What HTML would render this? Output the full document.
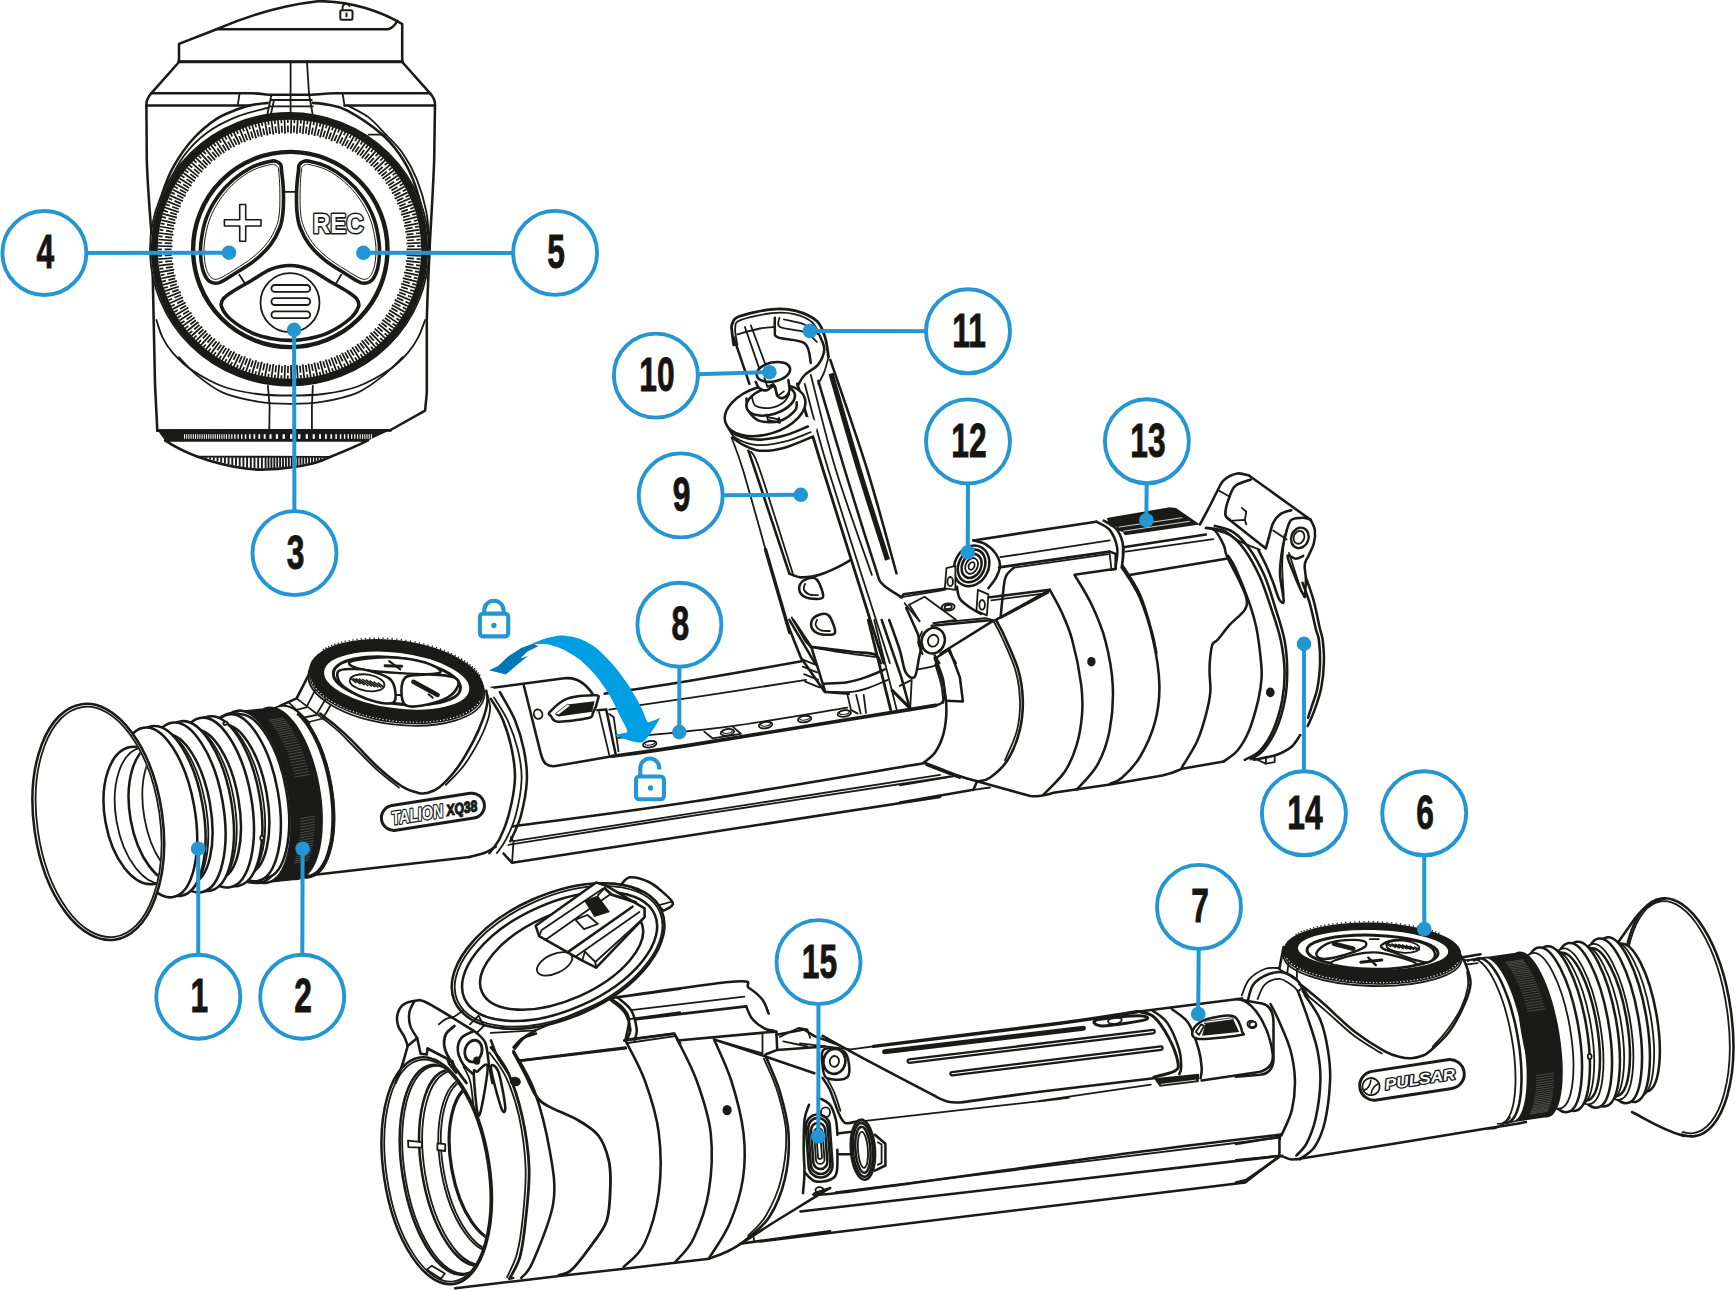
<!DOCTYPE html>
<html><head><meta charset="utf-8"><title>Talion XQ38 components</title>
<style>
html,body{margin:0;padding:0;background:#fff;}
svg{display:block}
.k{fill:none;stroke:#1a1a18;stroke-width:2.55;stroke-linecap:round;stroke-linejoin:round}
.k1{fill:none;stroke:#1a1a18;stroke-width:1.8;stroke-linecap:round;stroke-linejoin:round}
.k3{fill:none;stroke:#1a1a18;stroke-width:3.6;stroke-linecap:round;stroke-linejoin:round}
.w{fill:#fff;stroke:#1a1a18;stroke-width:2.55;stroke-linecap:round;stroke-linejoin:round}
.w1{fill:#fff;stroke:#1a1a18;stroke-width:1.8;stroke-linecap:round;stroke-linejoin:round}
.w3{fill:#fff;stroke:#1a1a18;stroke-width:3;stroke-linecap:round;stroke-linejoin:round}
.b{fill:#1a1a18;stroke:none}
</style></head><body>
<svg width="1736" height="1290" viewBox="0 0 1736 1290">
<rect width="1736" height="1290" fill="#fff"/>
<g id="topview">
<path class="w" d="M179,62 L179,43.9 L216.6,29.2 C245,17 283,5 318.5,1.2 C352,1 382,12 402.2,24 L402.2,62 Z" />
<path class="k" d="M216.6,29.2 L387.8,29.2 C393,28.5 395.5,24 397.5,20.8" />
<path class="k3" d="M179,62 L402.2,62" />
<rect x="340.3" y="10.2" width="12.2" height="9.6" rx="1.5" fill="#fff" stroke="#1a1a18" stroke-width="2"/>
<path class="k" d="M342.6,10 L342.6,7.2 C342.6,3.6 348.6,3.2 349.4,6" style='stroke-width:1.8'/>
<rect x="345.5" y="12.6" width="2" height="4.6" fill="#1a1a18"/>
<path class="w" d="M179,62 L151.2,93.3 C148,97 146.4,100 146.4,104 L146.8,160 C147.5,185 150,215 152,240 C153,270 153.5,300 155,384 L157.3,430.6 L390.6,430 L425.1,410.7 L426.8,393 L426.8,321 C427.5,290 429,265 430,240 C431.5,215 433,190 434.2,160 L435,104 C435,100 433,96.5 430.1,93.3 L402.2,62 Z" />
<path class="k" d="M151.2,93.3 L252,93.3 C262,93.6 266,94.7 271.4,94.7 L311.8,94.7 C318,94.5 324,93.4 336,93.3 L430.1,93.3" />
<path class="k" d="M146.4,105.4 L250,105.4 M344.5,105.4 L435,105.4" />
<path class="k1" d="M239.6,93.3 L237.7,105.4 M342.6,93.3 L344.5,105.4" />
<path class="k1" d="M290.6,62 L290.6,113 M307,62 L309,94 L312.5,113.5 M271.4,94.7 L267.6,113.5 M274,100 L271,113.5" />
<path class="k1" d="M271,100 L311.8,100 M269.5,106.4 L312.8,106.4" />
<path class="k" d="M267.6,102.9 C265.2,103.2 258.1,103.7 253.1,104.8 C248.1,105.9 243.8,106.9 237.7,109.3 C231.6,111.7 224.0,114.0 216.6,118.9 C209.2,123.8 200.6,130.8 193.5,138.5 C186.4,146.2 179.3,156.4 174.2,165.4 C169.1,174.4 165.7,183.1 162.7,192.4 C159.7,201.7 157.6,211.9 156.0,221.2 C154.4,230.5 153.6,243.7 153.1,248.2" />
<path class="k1" d="M268.5,107.7 C263.4,109.2 247.9,112.2 237.7,116.4 C227.4,120.6 216.0,126.1 207.0,132.7 C198.0,139.3 190.3,147.1 183.9,155.8 C177.5,164.5 172.5,174.8 168.5,184.7 C164.5,194.6 161.9,204.9 159.8,215.5 C157.7,226.1 156.6,242.8 156.0,248.2" />
<path class="k" d="M312.8,102.9 C315.4,103.2 322.4,103.5 328.2,104.8 C334.0,106.1 338.8,105.9 347.4,110.6 C356.0,115.2 371.5,125.5 380.1,132.7 C388.8,139.9 393.9,146.2 399.3,153.9 C404.8,161.6 409.0,169.3 412.8,178.9 C416.6,188.5 420.0,200.1 422.4,211.6 C424.8,223.1 426.4,242.1 427.2,248.2" />
<path class="k1" d="M347.4,105.4 C350.9,107.4 362.2,112.5 368.6,117.4 C375.0,122.3 380.1,128.6 385.9,134.7 C391.7,140.8 398.1,146.5 403.2,153.9 C408.3,161.3 412.8,169.3 416.6,178.9 C420.5,188.5 424.1,200.1 426.3,211.6 C428.6,223.1 429.5,242.1 430.1,248.2" />
<path class="k1" d="M368.6,134.7 L385.9,134.7" />
<path class="k1" d="M156.4,320.0 C157.4,322.9 159.8,331.8 162.5,337.3 C165.2,342.8 167.9,347.3 172.8,352.8 C177.7,358.3 183.5,364.5 191.8,370.1 C200.2,375.7 212.0,382.5 222.9,386.5 C233.8,390.5 246.3,392.5 257.5,394.0 C268.7,395.5 279.4,395.5 290.3,395.5 C301.2,395.5 312.0,395.5 323.2,394.0 C334.4,392.5 346.8,390.5 357.7,386.5 C368.6,382.5 380.4,375.7 388.8,370.1 C397.2,364.5 402.9,358.3 407.8,352.8 C412.7,347.3 415.3,342.8 418.2,337.3 C421.1,331.8 424.0,322.9 425.1,320.0" />
<path class="k1" d="M178.9,357.2 C181.9,360.2 189.7,369.4 197.0,375.3 C204.3,381.2 212.8,388.2 222.9,392.6 C233.0,397.0 246.3,399.7 257.5,401.6 C268.7,403.5 279.4,403.8 290.3,403.8 C301.2,403.8 312.0,403.5 323.2,401.6 C334.4,399.7 347.6,397.0 357.7,392.6 C367.8,388.2 376.1,381.2 383.6,375.3 C391.1,369.4 399.5,360.2 402.7,357.2" />
<path class="k1" d="M267.9,386.0 L269.6,406.4 L269.3,430.6" />
<path class="k1" d="M312.8,386.0 L311.9,406.4 L311.9,430.6" />
<path class="w" d="M165,440.4 C175,447 185,452 197,456.5 C212,462 228,466 243.7,468.3 C252,469.5 258,469.8 265,469.6 C275,469.3 283,468.5 290,467.5 C298,466.5 305,465.2 312.8,463.4 C320,461.5 325,459.5 330,457 C340,453 355,447 368,440.4 Z" />
<path d="M206.4,457.2 L206.4,458.4 M210.1,457.2 L210.1,459.4 M213.8,457.2 L213.8,460.4 M217.5,457.2 L217.5,461.5 M221.2,457.2 L221.2,462.5 M224.9,457.2 L224.9,463.3 M228.6,457.2 L228.6,464.1 M232.3,457.2 L232.3,465.0 M236.0,457.2 L236.0,465.8 M239.7,457.2 L239.7,466.6 M243.4,457.2 L243.4,467.4 M247.1,457.2 L247.1,467.7 M250.8,457.2 L250.8,467.9 M254.5,457.2 L254.5,468.2 M258.2,457.2 L258.2,468.4 M261.9,457.2 L261.9,468.6 M265.6,457.2 L265.6,468.7 M268.5,457.2 L268.5,468.5 M271.4,457.2 L271.4,468.3 M274.3,457.2 L274.3,468.0 M277.2,457.2 L277.2,467.8 M280.1,457.2 L280.1,467.5 M283.0,457.2 L283.0,467.3 M285.9,457.2 L285.9,467.0 M288.8,457.2 L288.8,466.8 M291.7,457.2 L291.7,466.4 M294.6,457.2 L294.6,465.9 M297.5,457.2 L297.5,465.4 M300.4,457.2 L300.4,464.8 M303.3,457.2 L303.3,464.3 M306.2,457.2 L306.2,463.8 M309.1,457.2 L309.1,463.3 M312.0,457.2 L312.0,462.7 M314.9,457.2 L314.9,461.8 M317.8,457.2 L317.8,460.7 M320.7,457.2 L320.7,459.7 M323.6,457.2 L323.6,458.6" stroke="#1a1a18" stroke-width="1.9" fill="none" stroke-linecap="butt"/>
<path class="k1" d="M197,456.6 L330,456.9" />
<path class="b" d="M157.3,430 L390.6,430 L368,440.6 L165,440.6 Z" />
<path class="k" d="M157.3,430.5 L390.6,430.5" />
<rect x="184.0" y="434.2" width="1.0" height="4.6" fill="#fff"/><rect x="186.2" y="434.2" width="1.0" height="4.6" fill="#fff"/><rect x="188.4" y="434.2" width="1.0" height="4.6" fill="#fff"/><rect x="190.6" y="434.2" width="1.0" height="4.6" fill="#fff"/><rect x="192.8" y="434.2" width="1.0" height="4.6" fill="#fff"/><rect x="195.0" y="434.2" width="1.0" height="4.6" fill="#fff"/><rect x="197.2" y="434.2" width="1.0" height="4.6" fill="#fff"/><rect x="199.4" y="434.2" width="1.0" height="4.6" fill="#fff"/><rect x="201.6" y="434.2" width="1.0" height="4.6" fill="#fff"/><rect x="203.8" y="434.2" width="1.0" height="4.6" fill="#fff"/><rect x="206.0" y="434.2" width="1.0" height="4.6" fill="#fff"/><rect x="208.2" y="434.2" width="1.0" height="4.6" fill="#fff"/><rect x="210.4" y="434.2" width="1.0" height="4.6" fill="#fff"/><rect x="212.6" y="434.2" width="1.0" height="4.6" fill="#fff"/><rect x="214.8" y="434.2" width="1.0" height="4.6" fill="#fff"/><rect x="217.0" y="434.2" width="1.0" height="4.6" fill="#fff"/><rect x="219.2" y="434.2" width="1.0" height="4.6" fill="#fff"/><rect x="221.4" y="434.2" width="1.0" height="4.6" fill="#fff"/><rect x="223.6" y="434.2" width="1.0" height="4.6" fill="#fff"/><rect x="225.9" y="434.2" width="1.1" height="4.6" fill="#fff"/><rect x="228.5" y="434.2" width="1.1" height="4.6" fill="#fff"/><rect x="231.2" y="434.2" width="1.2" height="4.6" fill="#fff"/><rect x="234.2" y="434.2" width="1.3" height="4.6" fill="#fff"/><rect x="237.5" y="434.2" width="1.3" height="4.6" fill="#fff"/><rect x="241.0" y="434.2" width="1.4" height="4.6" fill="#fff"/><rect x="244.8" y="434.2" width="1.5" height="4.6" fill="#fff"/><rect x="249.0" y="434.2" width="1.6" height="4.6" fill="#fff"/><rect x="253.5" y="434.2" width="1.7" height="4.6" fill="#fff"/><rect x="258.4" y="434.2" width="1.8" height="4.6" fill="#fff"/><rect x="263.7" y="434.2" width="1.9" height="4.6" fill="#fff"/><rect x="269.5" y="434.2" width="2.0" height="4.6" fill="#fff"/><rect x="275.8" y="434.2" width="2.2" height="4.6" fill="#fff"/><rect x="282.6" y="434.2" width="2.3" height="4.6" fill="#fff"/><rect x="290.0" y="434.2" width="2.5" height="4.6" fill="#fff"/><rect x="298.0" y="434.2" width="2.4" height="4.6" fill="#fff"/><rect x="305.7" y="434.2" width="2.2" height="4.6" fill="#fff"/><rect x="312.7" y="434.2" width="2.1" height="4.6" fill="#fff"/><rect x="319.1" y="434.2" width="1.9" height="4.6" fill="#fff"/><rect x="325.0" y="434.2" width="1.8" height="4.6" fill="#fff"/><rect x="330.4" y="434.2" width="1.7" height="4.6" fill="#fff"/><rect x="335.3" y="434.2" width="1.6" height="4.6" fill="#fff"/><rect x="339.8" y="434.2" width="1.5" height="4.6" fill="#fff"/><rect x="343.9" y="434.2" width="1.4" height="4.6" fill="#fff"/><rect x="347.6" y="434.2" width="1.3" height="4.6" fill="#fff"/><rect x="351.1" y="434.2" width="1.2" height="4.6" fill="#fff"/><rect x="354.2" y="434.2" width="1.2" height="4.6" fill="#fff"/><rect x="357.1" y="434.2" width="1.1" height="4.6" fill="#fff"/><rect x="359.7" y="434.2" width="1.0" height="4.6" fill="#fff"/><rect x="362.1" y="434.2" width="1.0" height="4.6" fill="#fff"/><rect x="364.3" y="434.2" width="1.0" height="4.6" fill="#fff"/><rect x="366.5" y="434.2" width="1.0" height="4.6" fill="#fff"/><rect x="368.7" y="434.2" width="1.0" height="4.6" fill="#fff"/><rect x="370.9" y="434.2" width="1.0" height="4.6" fill="#fff"/>
<ellipse class="w1" cx="289.5" cy="249.3" rx="139.5" ry="136.3" />
<ellipse class="k" cx="289.5" cy="249.3" rx="135.2" ry="133.0" style="stroke-width:7"/>
<path d="M406.5,249.3 L421.0,249.3 M407.5,252.2 L414.5,252.4 M417.0,252.5 L421.0,252.6 M406.4,255.1 L420.8,255.8 M407.2,258.1 L414.1,258.6 M416.6,258.8 L420.6,259.1 M405.9,260.9 L420.3,262.4 M406.6,263.9 L413.5,264.8 M416.0,265.1 L420.0,265.6 M405.2,266.7 L419.5,268.9 M405.7,269.7 L412.6,271.0 M415.0,271.4 L419.0,272.1 M404.1,272.4 L418.4,275.3 M404.5,275.5 L411.3,277.1 M413.8,277.6 L417.7,278.5 M402.8,278.1 L416.9,281.7 M403.0,281.2 L409.8,283.1 M412.2,283.8 L416.0,284.8 M401.2,283.7 L415.1,288.0 M401.3,286.8 L407.9,289.0 M410.3,289.8 L414.0,291.1 M399.3,289.2 L412.9,294.2 M399.2,292.3 L405.7,294.9 M408.0,295.8 L411.8,297.2 M397.2,294.6 L410.5,300.3 M396.9,297.7 L403.3,300.6 M405.5,301.6 L409.2,303.2 M394.7,299.9 L407.8,306.2 M394.3,303.0 L400.5,306.2 M402.7,307.3 L406.3,309.1 M392.0,305.1 L404.7,312.0 M391.4,308.1 L397.5,311.6 M399.7,312.9 L403.1,314.9 M389.1,310.1 L401.4,317.7 M388.3,313.1 L394.2,316.9 M396.3,318.3 L399.6,320.4 M385.9,315.0 L397.8,323.1 M385.0,318.0 L390.6,322.0 M392.6,323.5 L395.9,325.8 M382.4,319.7 L393.9,328.4 M381.4,322.6 L386.8,327.0 M388.8,328.5 L391.9,331.0 M378.7,324.2 L389.8,333.5 M377.5,327.1 L382.7,331.7 M384.6,333.4 L387.6,336.0 M374.8,328.6 L385.4,338.4 M373.5,331.4 L378.4,336.3 M380.2,338.0 L383.1,340.8 M370.7,332.7 L380.7,343.1 M369.2,335.5 L373.9,340.6 M375.6,342.4 L378.3,345.3 M366.3,336.7 L375.8,347.5 M364.7,339.3 L369.2,344.7 M370.8,346.6 L373.3,349.6 M361.8,340.4 L370.7,351.7 M360.1,342.9 L364.2,348.5 M365.7,350.5 L368.1,353.7 M357.1,343.9 L365.5,355.6 M355.2,346.3 L359.1,352.1 M360.5,354.1 L362.7,357.4 M352.2,347.1 L360.0,359.2 M350.2,349.5 L353.8,355.4 M355.1,357.5 L357.1,360.9 M347.1,350.1 L354.3,362.6 M345.0,352.4 L348.3,358.5 M349.5,360.7 L351.4,364.2 M342.0,352.8 L348.5,365.7 M339.7,355.0 L342.7,361.3 M343.8,363.5 L345.5,367.1 M336.6,355.3 L342.5,368.5 M334.3,357.4 L337.0,363.8 M337.9,366.1 L339.4,369.7 M331.2,357.5 L336.4,370.9 M328.8,359.5 L331.1,366.0 M331.9,368.3 L333.3,372.1 M325.7,359.5 L330.1,373.1 M323.1,361.3 L325.1,367.9 M325.8,370.3 L327.0,374.1 M320.0,361.1 L323.8,375.0 M317.4,362.8 L319.1,369.5 M319.7,371.9 L320.6,375.8 M314.3,362.5 L317.4,376.5 M311.6,364.1 L312.9,370.9 M313.4,373.3 L314.1,377.2 M308.5,363.6 L310.9,377.8 M305.8,365.0 L306.7,371.9 M307.1,374.3 L307.6,378.2 M302.7,364.4 L304.3,378.7 M299.9,365.7 L300.5,372.6 M300.7,375.0 L301.1,379.0 M296.8,364.9 L297.8,379.2 M293.9,366.0 L294.2,373.0 M294.3,375.4 L294.5,379.4 M291.0,365.1 L291.2,379.5 M288.0,366.1 L287.9,373.0 M287.9,375.5 L287.8,379.5 M285.1,365.0 L284.5,379.4 M282.1,365.9 L281.7,372.8 M281.5,375.3 L281.2,379.2 M279.2,364.7 L277.9,379.0 M276.2,365.4 L275.4,372.3 M275.1,374.7 L274.7,378.7 M273.4,364.0 L271.4,378.2 M270.3,364.6 L269.2,371.4 M268.8,373.8 L268.1,377.8 M267.6,363.1 L264.9,377.2 M264.5,363.5 L263.0,370.2 M262.5,372.7 L261.6,376.5 M261.8,361.8 L258.4,375.8 M258.7,362.1 L256.9,368.8 M256.2,371.2 L255.2,375.0 M256.2,360.3 L252.0,374.1 M253.0,360.4 L250.9,367.0 M250.1,369.3 L248.9,373.1 M250.6,358.5 L245.7,372.1 M247.4,358.4 L244.9,364.9 M244.1,367.2 L242.6,370.9 M245.1,356.5 L239.6,369.7 M242.0,356.2 L239.1,362.6 M238.1,364.8 L236.5,368.5 M239.7,354.1 L233.5,367.1 M236.6,353.7 L233.5,359.9 M232.3,362.1 L230.5,365.7 M234.4,351.5 L227.6,364.2 M231.4,351.0 L227.9,357.0 M226.7,359.1 L224.7,362.6 M229.3,348.6 L221.9,360.9 M226.3,347.9 L222.5,353.8 M221.2,355.9 L219.0,359.2 M224.3,345.5 L216.3,357.4 M221.3,344.7 L217.3,350.3 M215.9,352.3 L213.5,355.6 M219.5,342.1 L210.9,353.7 M216.6,341.2 L212.3,346.6 M210.7,348.5 L208.3,351.7 M214.9,338.5 L205.7,349.6 M212.0,337.4 L207.4,342.6 M205.8,344.5 L203.2,347.5 M210.5,334.7 L200.7,345.3 M207.6,333.4 L202.8,338.4 M201.1,340.2 L198.3,343.1 M206.3,330.7 L195.9,340.8 M203.5,329.3 L198.4,334.0 M196.6,335.7 L193.6,338.4 M202.2,326.4 L191.4,336.0 M199.5,324.9 L194.2,329.4 M192.3,331.0 L189.2,333.5 M198.4,322.0 L187.1,331.0 M195.8,320.3 L190.3,324.5 M188.3,326.0 L185.1,328.4 M194.8,317.4 L183.1,325.8 M192.3,315.6 L186.6,319.5 M184.5,320.9 L181.2,323.1 M191.5,312.6 L179.4,320.4 M189.1,310.7 L183.1,314.3 M181.0,315.6 L177.6,317.7 M188.4,307.6 L175.9,314.9 M186.1,305.6 L180.0,308.9 M177.8,310.1 L174.3,312.0 M185.6,302.5 L172.7,309.1 M183.4,300.4 L177.1,303.4 M174.8,304.5 L171.2,306.2 M183.0,297.3 L169.8,303.2 M180.9,295.0 L174.5,297.7 M172.2,298.7 L168.5,300.3 M180.7,291.9 L167.2,297.2 M178.7,289.6 L172.2,291.9 M169.8,292.8 L166.1,294.2 M178.7,286.5 L165.0,291.1 M176.8,284.0 L170.1,286.1 M167.8,286.8 L163.9,288.0 M176.9,280.9 L163.0,284.8 M175.2,278.4 L168.4,280.1 M166.0,280.7 L162.1,281.7 M175.5,275.3 L161.3,278.5 M173.9,272.6 L167.0,274.0 M164.6,274.5 L160.6,275.3 M174.3,269.6 L160.0,272.1 M172.8,266.8 L165.9,267.9 M163.4,268.3 L159.5,268.9 M173.4,263.8 L159.0,265.6 M172.1,261.0 L165.1,261.7 M162.6,262.0 L158.7,262.4 M172.8,258.0 L158.4,259.1 M171.6,255.2 L164.7,255.5 M162.2,255.6 L158.2,255.8 M172.5,252.2 L158.0,252.6 M171.5,249.3 L164.5,249.3 M162.0,249.3 L158.0,249.3 M172.5,246.4 L158.0,246.0 M171.6,243.4 L164.7,243.1 M162.2,243.0 L158.2,242.8 M172.8,240.6 L158.4,239.5 M172.1,237.6 L165.1,236.9 M162.6,236.6 L158.7,236.2 M173.4,234.8 L159.0,233.0 M172.8,231.8 L165.9,230.7 M163.4,230.3 L159.5,229.7 M174.3,229.0 L160.0,226.5 M173.9,226.0 L167.0,224.6 M164.6,224.1 L160.6,223.3 M175.5,223.3 L161.3,220.1 M175.2,220.2 L168.4,218.5 M166.0,217.9 L162.1,216.9 M176.9,217.7 L163.0,213.8 M176.8,214.6 L170.1,212.5 M167.8,211.8 L163.9,210.6 M178.7,212.1 L165.0,207.5 M178.7,209.0 L172.2,206.7 M169.8,205.8 L166.1,204.4 M180.7,206.7 L167.2,201.4 M180.9,203.6 L174.5,200.9 M172.2,199.9 L168.5,198.3 M183.0,201.3 L169.8,195.4 M183.4,198.2 L177.1,195.2 M174.8,194.1 L171.2,192.4 M185.6,196.1 L172.7,189.5 M186.1,193.0 L180.0,189.7 M177.8,188.5 L174.3,186.6 M188.4,191.0 L175.9,183.7 M189.1,187.9 L183.1,184.3 M181.0,183.0 L177.6,180.9 M191.5,186.0 L179.4,178.2 M192.3,183.0 L186.6,179.1 M184.5,177.7 L181.2,175.5 M194.8,181.2 L183.1,172.8 M195.8,178.3 L190.3,174.1 M188.3,172.6 L185.1,170.2 M198.4,176.6 L187.1,167.6 M199.5,173.7 L194.2,169.2 M192.3,167.6 L189.2,165.1 M202.2,172.2 L191.4,162.6 M203.5,169.3 L198.4,164.6 M196.6,162.9 L193.6,160.2 M206.3,167.9 L195.9,157.8 M207.6,165.2 L202.8,160.2 M201.1,158.4 L198.3,155.5 M210.5,163.9 L200.7,153.3 M212.0,161.2 L207.4,156.0 M205.8,154.1 L203.2,151.1 M214.9,160.1 L205.7,149.0 M216.6,157.4 L212.3,152.0 M210.7,150.1 L208.3,146.9 M219.5,156.5 L210.9,144.9 M221.3,153.9 L217.3,148.3 M215.9,146.3 L213.5,143.0 M224.3,153.1 L216.3,141.2 M226.3,150.7 L222.5,144.8 M221.2,142.7 L219.0,139.4 M229.3,150.0 L221.9,137.7 M231.4,147.6 L227.9,141.6 M226.7,139.5 L224.7,136.0 M234.4,147.1 L227.6,134.4 M236.6,144.9 L233.5,138.7 M232.3,136.5 L230.5,132.9 M239.7,144.5 L233.5,131.5 M242.0,142.4 L239.1,136.0 M238.1,133.8 L236.5,130.1 M245.1,142.1 L239.6,128.9 M247.4,140.2 L244.9,133.7 M244.1,131.4 L242.6,127.7 M250.6,140.1 L245.7,126.5 M253.0,138.2 L250.9,131.6 M250.1,129.3 L248.9,125.5 M256.2,138.3 L252.0,124.5 M258.7,136.5 L256.9,129.8 M256.2,127.4 L255.2,123.6 M261.8,136.8 L258.4,122.8 M264.5,135.1 L263.0,128.4 M262.5,125.9 L261.6,122.1 M267.6,135.5 L264.9,121.4 M270.3,134.0 L269.2,127.2 M268.8,124.8 L268.1,120.8 M273.4,134.6 L271.4,120.4 M276.2,133.2 L275.4,126.3 M275.1,123.9 L274.7,119.9 M279.2,133.9 L277.9,119.6 M282.1,132.7 L281.7,125.8 M281.5,123.3 L281.2,119.4 M285.1,133.6 L284.5,119.2 M288.0,132.5 L287.9,125.6 M287.9,123.1 L287.8,119.1 M291.0,133.5 L291.2,119.1 M293.9,132.6 L294.2,125.6 M294.3,123.2 L294.5,119.2 M296.8,133.7 L297.8,119.4 M299.9,132.9 L300.5,126.0 M300.7,123.6 L301.1,119.6 M302.7,134.2 L304.3,119.9 M305.8,133.6 L306.7,126.7 M307.1,124.3 L307.6,120.4 M308.5,135.0 L310.9,120.8 M311.6,134.5 L312.9,127.7 M313.4,125.3 L314.1,121.4 M314.3,136.1 L317.4,122.1 M317.4,135.8 L319.1,129.1 M319.7,126.7 L320.6,122.8 M320.0,137.5 L323.8,123.6 M323.1,137.3 L325.1,130.7 M325.8,128.3 L327.0,124.5 M325.7,139.1 L330.1,125.5 M328.8,139.1 L331.1,132.6 M331.9,130.3 L333.3,126.5 M331.2,141.1 L336.4,127.7 M334.3,141.2 L337.0,134.8 M337.9,132.5 L339.4,128.9 M336.6,143.3 L342.5,130.1 M339.7,143.6 L342.7,137.3 M343.8,135.1 L345.5,131.5 M342.0,145.8 L348.5,132.9 M345.0,146.2 L348.3,140.1 M349.5,137.9 L351.4,134.4 M347.1,148.5 L354.3,136.0 M350.2,149.1 L353.8,143.2 M355.1,141.1 L357.1,137.7 M352.2,151.5 L360.0,139.4 M355.2,152.3 L359.1,146.5 M360.5,144.5 L362.7,141.2 M357.1,154.7 L365.5,143.0 M360.1,155.7 L364.2,150.1 M365.7,148.1 L368.1,144.9 M361.8,158.2 L370.7,146.9 M364.7,159.3 L369.2,153.9 M370.8,152.0 L373.3,149.0 M366.3,161.9 L375.8,151.1 M369.2,163.1 L373.9,158.0 M375.6,156.2 L378.3,153.3 M370.7,165.9 L380.7,155.5 M373.5,167.2 L378.4,162.3 M380.2,160.6 L383.1,157.8 M374.8,170.0 L385.4,160.2 M377.5,171.5 L382.7,166.9 M384.6,165.2 L387.6,162.6 M378.7,174.4 L389.8,165.1 M381.4,176.0 L386.8,171.6 M388.8,170.1 L391.9,167.6 M382.4,178.9 L393.9,170.2 M385.0,180.6 L390.6,176.6 M392.6,175.1 L395.9,172.8 M385.9,183.6 L397.8,175.5 M388.3,185.5 L394.2,181.7 M396.3,180.3 L399.6,178.2 M389.1,188.5 L401.4,180.9 M391.4,190.5 L397.5,187.0 M399.7,185.7 L403.1,183.7 M392.0,193.5 L404.7,186.6 M394.3,195.6 L400.5,192.4 M402.7,191.3 L406.3,189.5 M394.7,198.7 L407.8,192.4 M396.9,200.9 L403.3,198.0 M405.5,197.0 L409.2,195.4 M397.2,204.0 L410.5,198.3 M399.2,206.3 L405.7,203.7 M408.0,202.8 L411.8,201.4 M399.3,209.4 L412.9,204.4 M401.3,211.8 L407.9,209.6 M410.3,208.8 L414.0,207.5 M401.2,214.9 L415.1,210.6 M403.0,217.4 L409.8,215.5 M412.2,214.8 L416.0,213.8 M402.8,220.5 L416.9,216.9 M404.5,223.1 L411.3,221.5 M413.8,221.0 L417.7,220.1 M404.1,226.2 L418.4,223.3 M405.7,228.9 L412.6,227.6 M415.0,227.2 L419.0,226.5 M405.2,231.9 L419.5,229.7 M406.6,234.7 L413.5,233.8 M416.0,233.5 L420.0,233.0 M405.9,237.7 L420.3,236.2 M407.2,240.5 L414.1,240.0 M416.6,239.8 L420.6,239.5 M406.4,243.5 L420.8,242.8 M407.5,246.4 L414.5,246.2 M417.0,246.1 L421.0,246.0" stroke="#1a1a18" stroke-width="1.75" fill="none"/>
<ellipse class="k" cx="290.3" cy="249.5" rx="97.2" ry="97.6" style="stroke-width:4.4"/>
<path class="k" d="M281.5,170.2 C281.1,166.2 281.5,166.1 280.7,164.7 C279.9,163.3 278.5,162.2 276.8,161.6 C275.1,161.0 274.7,160.3 270.6,161.2 C266.5,162.1 258.2,164.0 252.0,167.1 C245.8,170.2 239.1,174.6 233.4,179.5 C227.7,184.4 222.4,190.1 217.9,196.5 C213.4,202.9 209.1,210.4 206.3,218.2 C203.5,225.9 201.8,235.8 200.9,243.0 C200.1,250.2 200.6,256.4 201.2,261.6 C201.8,266.8 202.8,270.6 204.3,274.0 C205.8,277.4 207.7,280.4 210.2,281.8 C212.7,283.2 215.1,284.2 219.5,282.6 C223.9,281.1 230.6,276.2 236.5,272.5 C242.4,268.8 249.4,264.8 255.1,260.1 C260.8,255.5 266.5,250.0 270.6,244.6 C274.7,239.2 277.8,232.9 279.9,227.5 C282.0,222.1 282.4,218.4 283.0,212.0 C283.6,205.6 283.6,195.8 283.3,188.8 C283.1,181.8 281.9,174.2 281.5,170.2Z" style="stroke-width:3.6"/>
<path class="k" d="M298.5,170.2 C298.9,166.2 298.5,166.1 299.3,164.7 C300.1,163.3 301.5,162.2 303.2,161.6 C304.9,161.0 305.3,160.3 309.4,161.2 C313.5,162.1 321.8,164.0 328.0,167.1 C334.2,170.2 340.9,174.6 346.6,179.5 C352.3,184.4 357.6,190.1 362.1,196.5 C366.6,202.9 370.9,210.4 373.7,218.2 C376.5,225.9 378.2,235.8 379.1,243.0 C380.0,250.2 379.4,256.4 378.8,261.6 C378.2,266.8 377.2,270.6 375.7,274.0 C374.2,277.4 372.3,280.4 369.8,281.8 C367.3,283.2 364.9,284.2 360.5,282.6 C356.1,281.1 349.4,276.2 343.5,272.5 C337.6,268.8 330.6,264.8 324.9,260.1 C319.2,255.5 313.5,250.0 309.4,244.6 C305.3,239.2 302.2,232.9 300.1,227.5 C298.0,222.1 297.6,218.4 297.0,212.0 C296.4,205.6 296.4,195.8 296.7,188.8 C296.9,181.8 298.1,174.2 298.5,170.2Z" style="stroke-width:3.6"/>
<path class="k1" d="M278.7,170.9 C278.3,167.2 278.3,167.7 277.6,166.7 C276.9,165.7 275.8,165.0 274.5,164.7 C273.2,164.4 273.4,163.8 269.8,164.7 C266.2,165.6 258.5,167.3 252.8,170.2 C247.1,173.0 241.0,177.2 235.7,181.8 C230.4,186.5 225.3,191.9 221.0,198.1 C216.7,204.3 212.6,211.5 209.8,219.0 C207.0,226.5 205.2,236.0 204.4,243.0 C203.6,250.0 204.2,256.1 204.7,260.9 C205.2,265.7 206.2,268.9 207.4,271.7 C208.6,274.5 209.8,276.7 211.7,277.9 C213.6,279.1 214.8,280.1 218.7,278.7 C222.6,277.3 229.3,273.0 235.0,269.4 C240.7,265.8 247.4,261.8 252.8,257.3 C258.2,252.8 263.6,247.8 267.5,242.6 C271.4,237.4 274.4,231.6 276.4,226.4 C278.4,221.2 278.9,218.0 279.5,211.7 C280.1,205.4 279.9,195.6 279.8,188.8 C279.7,182.0 279.1,174.6 278.7,170.9Z" style="stroke-width:1"/>
<path class="k1" d="M301.3,170.9 C301.7,167.2 301.7,167.7 302.4,166.7 C303.1,165.7 304.2,165.0 305.5,164.7 C306.8,164.4 306.6,163.8 310.2,164.7 C313.8,165.6 321.5,167.3 327.2,170.2 C332.9,173.0 339.0,177.2 344.3,181.8 C349.6,186.5 354.7,191.9 359.0,198.1 C363.3,204.3 367.4,211.5 370.2,219.0 C373.0,226.5 374.8,236.0 375.6,243.0 C376.5,250.0 375.8,256.1 375.3,260.9 C374.8,265.7 373.8,268.9 372.6,271.7 C371.4,274.5 370.2,276.7 368.3,277.9 C366.4,279.1 365.2,280.1 361.3,278.7 C357.4,277.3 350.7,273.0 345.0,269.4 C339.3,265.8 332.6,261.8 327.2,257.3 C321.8,252.8 316.4,247.8 312.5,242.6 C308.6,237.4 305.6,231.6 303.6,226.4 C301.6,221.2 301.1,218.0 300.5,211.7 C299.9,205.4 300.1,195.6 300.2,188.8 C300.3,182.0 300.9,174.6 301.3,170.9Z" style="stroke-width:1"/>
<path class="k" d="M290.0,265.5 C283.5,265.5 276.9,266.9 270.6,269.4 C264.3,271.8 258.4,276.4 252.0,280.2 C245.6,283.9 236.7,288.8 231.9,291.9 C227.1,295.0 225.0,296.4 223.3,298.8 C221.6,301.2 220.3,303.2 221.5,306.6 C222.7,310.0 225.2,314.6 230.3,319.0 C235.4,323.4 245.3,329.7 252.0,332.9 C258.7,336.1 264.3,337.1 270.6,338.4 C276.9,339.6 283.5,340.4 290.0,340.4 C296.5,340.4 303.1,339.6 309.4,338.4 C315.7,337.1 321.3,336.1 328.0,332.9 C334.7,329.7 344.6,323.4 349.7,319.0 C354.8,314.6 357.3,310.0 358.5,306.6 C359.7,303.2 358.4,301.2 356.7,298.8 C355.0,296.4 352.9,295.0 348.1,291.9 C343.3,288.8 334.4,283.9 328.0,280.2 C321.6,276.4 315.7,271.8 309.4,269.4 C303.1,266.9 296.5,265.5 290.0,265.5Z" style="stroke-width:3.6"/>
<path class="k1" d="M284.9,191.9 L295.4,191.9" />
<path class="k1" d="M239.3,274.8 L244.3,282.6" />
<path class="k1" d="M341.2,274.8 L336.5,282.6" />
<ellipse class="k1" cx="290" cy="302.7" rx="29.5" ry="29.5" />
<rect class="w1" x="271.4" y="285.0" width="38.8" height="6.8" rx="3.4"/>
<rect class="w1" x="271.4" y="298.20000000000005" width="38.8" height="6.8" rx="3.4"/>
<rect class="w1" x="271.4" y="311.40000000000003" width="38.8" height="6.8" rx="3.4"/>
<path class="w1" d="M239.7,204.5 h6 a0,0 0 0 1 0,0 v15.3 h15.3 v6.2 h-15.3 v15.3 h-6 v-15.3 h-15.3 v-6.2 h15.3 Z" style="stroke-linejoin:round;stroke-width:1.6" transform="translate(0,0)"/>
<text transform="translate(338.2,233) scale(0.86,1)" text-anchor="middle" font-family="Liberation Sans, sans-serif" font-weight="bold" font-size="28" fill="#fff" stroke="#1a1a18" stroke-width="3.2" paint-order="stroke" stroke-linejoin="round">REC</text>

</g>
<g id="scope2">
<ellipse class="w" cx="558.1" cy="956" rx="113" ry="62" transform="rotate(-23.8 558.1 956)" />
<ellipse class="k1" cx="558.6" cy="956.3" rx="110.5" ry="59.5" transform="rotate(-23.8 558.6 956.3)" />
<ellipse class="k" cx="559.6" cy="956.5" rx="104" ry="53.5" transform="rotate(-23.8 559.6 956.5)" />
<ellipse class="k" cx="561.6" cy="957" rx="87" ry="43" transform="rotate(-23.8 561.6 957)" />
<ellipse class="k1" cx="554.6" cy="963.8" rx="19" ry="9.5" transform="rotate(-25 554.6 963.8)" />
<path class="k" d="M622.1,883.3 C623.5,882.3 626.1,877.4 630.7,877.3 C635.3,877.2 644.3,879.9 649.8,882.5 C655.3,885.1 659.8,889.6 663.6,892.9 C667.4,896.2 671.5,900.0 672.6,902.4 C673.8,904.8 672.0,905.6 670.5,907.0 C669.0,908.4 664.8,909.9 663.6,910.5" />
<path class="k1" d="M663.6,910.5 L658.4,905.3 L672.2,901.5" />
<path class="k1" d="M627.3,885.9 C628.7,886.5 633.6,888.2 635.9,889.4 C638.2,890.6 640.2,892.3 641.1,892.9" />
<path class="w" d="M535.6,925.7 L596.2,882.5 L606.5,885.9 L644.6,908.4 L644.6,917.1 L596.2,967.6 L582.3,960.6 L539.1,936.1Z" />
<path class="k1" d="M539.1,936.1 L541.7,930.0 L603.1,888.5" />
<path class="k1" d="M546.0,939.5 L610.0,894.6" />
<path class="k" d="M568.5,951.6 L632.5,906.7" />
<path class="k1" d="M575.4,956.8 L639.4,911.9" />
<path class="k1" d="M582.3,960.6 L584.9,951.6 L595.3,962.0 L596.2,967.6" />
<path class="k1" d="M595.3,962.0 L644.6,917.1" />
<path class="b" d="M584.0,900.6 L597.9,895.4 L610.0,911.9 L594.4,917.1Z" />
<path class="w1" d="M575.4,919.7 L587.5,915.0 L597.9,924.0 L584.0,929.2Z" />
<path class="k" d="M604.8,888.5 L611.7,894.6 L635.9,902.4" style="stroke-width:2.8"/>
<path class="k1" d="M597.9,895.4 L606.5,885.9" />
<path class="w1" d="M491.0,1040.4 C509.8,1008.3 496.2,1059.8 518.7,1061.1 C541.2,1062.4 608.0,1051.5 625.9,1048.2 C643.8,1044.9 617.8,1043.8 625.9,1041.3 C634.0,1038.8 659.7,1033.8 674.4,1033.5 C689.1,1033.2 698.8,1035.6 714.1,1039.5 C729.4,1043.4 753.6,1041.2 766.0,1056.8 C778.4,1072.4 784.5,1111.9 788.5,1132.9 C792.5,1153.9 793.5,1167.5 790.2,1182.9 C786.9,1198.3 776.7,1215.6 768.8,1225.5 C760.9,1235.4 752.8,1236.9 742.9,1242.4 C733.0,1247.9 739.5,1253.1 709.2,1258.7 C679.0,1264.3 603.7,1271.2 561.4,1276.1 C519.1,1281.0 481.1,1292.0 455.2,1288.3 C429.3,1284.6 399.9,1295.3 405.9,1254.0 C411.9,1212.7 472.2,1072.6 491.0,1040.4Z" style="stroke:none"/>
<path class="k" d="M766.0,1056.8 C768.3,1062.6 776.0,1078.7 779.8,1091.4 C783.5,1104.1 787.6,1118.3 788.5,1132.9 C789.4,1147.5 788.2,1164.8 784.9,1178.9 C781.6,1193.1 775.8,1207.2 768.8,1217.8 C761.8,1228.4 747.2,1238.3 742.9,1242.4" />
<path class="k1" d="M763.9,1058.6 C766.1,1064.1 773.7,1079.0 777.4,1091.4 C781.1,1103.8 785.5,1118.3 786.1,1132.9 C786.7,1147.5 784.5,1165.2 781.2,1178.9 C777.9,1192.6 771.7,1205.7 766.2,1215.2 C760.7,1224.7 751.1,1232.5 748.1,1235.9" />
<path class="k" d="M714.1,1039.5 C717.0,1046.4 726.5,1065.4 731.4,1081.0 C736.3,1096.6 741.6,1116.6 743.5,1132.9 C745.4,1149.2 745.2,1163.9 742.9,1178.9 C740.6,1193.9 735.5,1209.7 729.9,1222.9 C724.3,1236.1 712.7,1252.1 709.2,1257.9" />
<path class="k" d="M677.8,1040.4 C681.0,1047.2 691.3,1065.6 696.8,1081.0 C702.3,1096.4 708.7,1114.4 710.7,1132.9 C712.7,1151.4 711.6,1174.2 708.7,1191.8 C705.9,1209.4 699.1,1226.8 693.6,1238.5 C688.1,1250.2 678.5,1257.9 675.5,1261.8" />
<path class="k" d="M625.9,1041.3 C629.1,1047.9 639.5,1065.7 645.0,1081.0 C650.5,1096.3 656.5,1114.4 658.8,1132.9 C661.1,1151.4 661.3,1173.3 658.9,1191.8 C656.5,1210.3 650.3,1231.2 644.4,1243.7 C638.5,1256.2 627.1,1263.1 623.6,1267.0" />
<ellipse class="b" cx="727.1" cy="1110.1" rx="4.6" ry="5.2" />
<path class="k" d="M513.5,1052.5 C515.5,1056.2 521.9,1067.8 525.6,1075.0 C529.4,1082.2 532.2,1090.5 536.0,1095.7 C539.8,1100.9 541.2,1102.1 548.1,1106.1 C555.0,1110.1 569.1,1115.0 577.5,1119.9 C585.9,1124.8 593.1,1128.9 598.3,1135.5 C603.5,1142.1 606.6,1151.4 608.6,1159.7 C610.6,1168.0 610.7,1175.5 610.4,1185.6 C610.1,1195.7 609.9,1210.5 606.9,1220.2 C603.9,1229.9 598.4,1235.5 592.5,1243.7 C586.6,1251.9 577.4,1264.3 571.8,1269.6 C566.2,1274.9 561.0,1274.3 558.8,1275.3" style="stroke-width:2.8"/>
<path class="k" d="M491.0,1047.3 C493.9,1051.6 503.1,1061.7 508.3,1073.2 C513.5,1084.7 518.7,1100.7 522.2,1116.5 C525.7,1132.3 528.5,1151.0 529.1,1168.3 C529.7,1185.6 527.1,1205.5 525.6,1220.2 C524.1,1234.9 522.7,1246.8 520.0,1256.6 C517.3,1266.3 511.3,1275.0 509.6,1278.7" style="stroke-width:2.8"/>
<path class="k" d="M513.5,1050.8 C517.0,1057.4 528.2,1073.8 534.3,1090.5 C540.3,1107.2 546.6,1132.3 549.8,1151.0 C553.0,1169.7 556.1,1184.4 553.3,1202.9 C550.5,1221.4 538.2,1249.3 532.9,1261.8 C527.6,1274.3 523.2,1275.2 521.3,1277.9" />
<path class="k1" d="M489.3,1052.5 C492.0,1056.5 500.7,1066.0 505.7,1076.7 C510.7,1087.4 515.8,1101.2 519.1,1116.5 C522.4,1131.8 525.0,1151.0 525.6,1168.3 C526.2,1185.6 524.0,1205.9 522.5,1220.2 C521.0,1234.5 519.5,1244.5 516.9,1254.0 C514.3,1263.5 508.6,1273.5 507.0,1277.4" />
<ellipse class="b" cx="515.3" cy="1081.5" rx="5.6" ry="4.6" transform="rotate(10 515.3 1081.5)" />
<path class="k" d="M518.7,1061.1 L625.9,1048.2" />
<path class="k" d="M513.5,1047.3 C515.0,1045.8 518.5,1040.9 522.2,1038.6 C526.0,1036.3 533.7,1034.3 536.0,1033.5" />
<path class="k" d="M455.2,1288.3 C472.9,1286.2 530.7,1279.3 561.4,1275.8 C592.1,1272.2 614.6,1269.8 639.2,1267.0 C663.8,1264.2 697.5,1260.1 709.2,1258.7" />
<path class="k" d="M709.2,1258.7 C712.2,1257.5 721.7,1254.2 727.3,1251.5 C732.9,1248.8 736.0,1246.7 742.9,1242.4 C749.8,1238.1 760.2,1231.0 768.8,1225.5 C777.4,1220.0 784.5,1215.8 794.7,1209.5 C804.9,1203.2 824.1,1191.6 830.0,1188.0" />
<path class="k" d="M740.3,1243.7 L830.0,1231.2" />
<path class="k1" d="M753.3,1236.4 L754.5,1241.6" />
<ellipse class="b" cx="511.4" cy="1278.2" rx="3.2" ry="1.4" transform="rotate(-8 511.4 1278.2)" />
<ellipse class="w" cx="436.7" cy="1170.7" rx="53" ry="114.5" transform="rotate(-8.6 436.7 1170.7)" />
<ellipse class="k1" cx="437.3" cy="1170.7" rx="50.8" ry="112" transform="rotate(-8.6 437.3 1170.7)" />
<clipPath id="objclip"><ellipse cx="437.3" cy="1170.7" rx="50" ry="111.2" transform="rotate(-8.6 437.3 1170.7)"/></clipPath>
<g clip-path="url(#objclip)"><ellipse class="k" cx="447.7" cy="1169.7" rx="45.5" ry="106" transform="rotate(-9 447.7 1169.7)" /><ellipse class="k1" cx="449.7" cy="1169.7" rx="45" ry="105" transform="rotate(-9 449.7 1169.7)" /><ellipse class="k" cx="463.7" cy="1167.7" rx="42" ry="99" transform="rotate(-9.5 463.7 1167.7)" /><ellipse class="k1" cx="466.7" cy="1167.7" rx="42" ry="98" transform="rotate(-9.5 466.7 1167.7)" /><ellipse class="k1" cx="479.7" cy="1164.7" rx="39" ry="88" transform="rotate(-10 479.7 1164.7)" /><ellipse class="k1" cx="481.7" cy="1164.7" rx="38.5" ry="87" transform="rotate(-10 481.7 1164.7)" /><ellipse class="k" cx="487.2" cy="1162.7" rx="36" ry="79" transform="rotate(-10 487.2 1162.7)" style="stroke-width:3.2"/></g>
<path class="w1" d="M408.0,1140.7 L421.9,1142.1 L421.9,1147.6 L408.4,1147.2Z" />
<path class="w1" d="M437.4,1143.3 L445.2,1144.1 L445.2,1151.0 L437.4,1150.0Z" />
<path class="w1" d="M426.7,1269.6 L431.8,1265.7 L444.8,1273.5 L440.9,1278.7Z" />
<path class="w" d="M476.8,1032.9 C468.7,1028.0 438.8,1008.8 428.4,1003.5 C418.0,998.2 418.9,1000.6 414.6,1000.9 C410.3,1001.2 405.4,1002.8 402.5,1005.3 C399.6,1007.8 398.0,1012.1 397.3,1015.6 C396.6,1019.1 397.1,1022.5 398.2,1026.0 C399.3,1029.5 402.6,1033.1 404.2,1036.4 C405.8,1039.7 407.1,1044.3 407.7,1045.9" />
<path class="k" d="M414.6,1000.9 C413.7,1002.8 410.1,1008.0 409.4,1012.2 C408.7,1016.4 409.0,1021.7 410.3,1026.0 C411.6,1030.3 416.1,1036.1 417.2,1038.1" />
<path class="k" d="M407.7,1045.9 L417.2,1038.1 L420.6,1053.7 L426.7,1054.5 L427.6,1048.5" />
<path class="k1" d="M438.8,1024.3 C439.9,1023.4 443.1,1020.4 445.7,1019.1 C448.3,1017.8 451.5,1018.0 454.4,1016.5 C457.3,1015.0 461.6,1011.4 463.0,1010.4" />
<path class="k" d="M407.7,1045.9 C406.8,1048.9 404.5,1057.8 402.5,1064.0 C400.5,1070.2 396.8,1079.8 395.6,1082.9" />
<path class="k" d="M427.6,1048.5 L452.6,1061.5 L456.1,1072.7 L449.2,1064.0 L447.4,1058.9" />
<path class="k" d="M454.4,1026.0 C452.9,1027.4 447.3,1030.8 445.7,1034.6 C444.1,1038.3 443.6,1043.6 444.8,1048.5 C446.0,1053.4 449.0,1058.3 452.6,1064.0 C456.2,1069.7 464.2,1079.8 466.5,1082.9" style="stroke-width:2.8"/>
<path class="k" d="M473.4,1031.2 C471.4,1032.3 463.9,1034.9 461.3,1038.1 C458.7,1041.3 457.5,1045.9 457.8,1050.2 C458.1,1054.5 460.4,1060.0 463.0,1064.0 C465.6,1068.0 471.7,1072.7 473.4,1074.4" />
<ellipse class="w" cx="473.4" cy="1051.1" rx="8.5" ry="11" transform="rotate(15 473.4 1051.1)" style="stroke-width:2.8"/>
<ellipse class="b" cx="476.8" cy="1060.6" rx="3.6" ry="4.2" />
<path class="k" d="M476.8,1032.9 C478.2,1034.6 483.5,1038.1 485.5,1043.3 C487.5,1048.5 487.8,1057.4 488.9,1064.0 C490.0,1070.6 491.8,1079.8 492.4,1082.9" />
<path class="k" d="M473.8,1073.2 C473.8,1079.8 476.0,1105.2 477.2,1111.3 C478.4,1117.4 479.3,1117.3 481.0,1109.9 C482.7,1102.5 488.2,1073.1 487.6,1066.7 C487.0,1060.3 479.5,1070.4 477.2,1071.5 C474.9,1072.6 473.8,1066.6 473.8,1073.2Z" />
<path class="k" d="M491.0,1068.4 C491.5,1074.5 499.0,1101.9 501.4,1108.2 C503.8,1114.5 505.7,1112.5 505.2,1106.4 C504.7,1100.3 500.7,1077.8 498.3,1071.5 C495.9,1065.2 490.5,1062.3 491.0,1068.4Z" />
<path class="k1" d="M463.4,1066.3 C464.5,1068.9 468.6,1074.7 470.3,1081.9 C472.0,1089.1 473.2,1104.9 473.8,1109.5" />
<path class="k" d="M491.0,1040.4 C492.2,1043.3 495.1,1052.2 498.0,1057.7 C500.9,1063.2 506.6,1070.6 508.3,1073.2" />
<path class="k1" d="M469.9,1024.3 L478.6,1015.6 L483.8,1026.0 L476.8,1032.9" />
<path class="k1" d="M490.7,1032.9 L535.6,1030.3 L610.0,998.3" />
<path class="k" d="M514.9,1048.5 C516.3,1046.8 520.0,1041.1 523.5,1038.1 C527.0,1035.1 533.6,1031.6 535.6,1030.3" style="stroke-width:2.8"/>
<path class="k" d="M610.0,998.3 C621.7,996.7 679.0,989.0 680.2,988.8 C681.4,988.6 608.2,998.4 617.3,997.2 C626.4,996.0 713.0,983.2 734.9,981.6 C756.8,980.0 744.1,984.7 748.7,987.7 C753.3,990.7 759.2,995.5 762.5,999.8 C765.8,1004.1 767.6,1011.3 768.6,1013.6" />
<path class="k1" d="M631.1,1010.1 L744.4,996.7" />
<path class="k" d="M636.3,1019.1 L746.1,1006.3" style="stroke-width:2.8"/>
<path class="k" d="M746.1,1006.3 C747.1,1008.4 749.2,1015.1 752.2,1018.8 C755.2,1022.5 760.6,1026.3 764.3,1028.3 C768.0,1030.3 772.9,1030.5 774.6,1030.9" />
<path class="k" d="M610.4,999.8 C612.7,1001.8 620.9,1007.0 624.2,1011.9 C627.5,1016.8 630.0,1024.3 630.3,1029.2 C630.6,1034.1 626.6,1039.3 625.9,1041.3" />
<path class="k" d="M617.3,997.2 C619.6,999.4 627.9,1004.8 631.1,1010.1 C634.3,1015.4 636.1,1024.2 636.7,1029.2 C637.3,1034.2 635.0,1038.1 634.6,1039.9" />
<path class="k" d="M610.0,998.3 C612.0,999.8 618.9,1003.5 622.1,1007.0 C625.3,1010.5 628.4,1013.6 629.0,1019.1 C629.6,1024.6 626.1,1036.3 625.5,1039.8" />
<path class="k1" d="M629.0,1019.1 L680.2,1012.2" />
<path class="k" d="M625.5,1039.8 L674.0,1033.8 L680.2,1043.3" />
<path class="k" d="M520.1,1060.6 L625.5,1047.6" />
<path class="k" d="M624.2,1040.6 L674.4,1033.5 L677.8,1040.4 L764.3,1032.6 L776.4,1031.8" />
<path class="k1" d="M627.7,1043.0 L673.5,1036.4" />
<path class="k" d="M714.1,1039.5 L764.3,1056.1 L766.0,1054.2 L777.2,1049.9 L776.4,1031.8" />
<path class="k1" d="M721.0,1041.3 L762.5,1053.4 L762.5,1033.0" />
<path class="k" d="M766.0,1056.8 L814.4,1073.3" />
<path class="k" d="M777.2,1049.9 L824.8,1046.5" />
<path class="k" d="M776.4,1034.7 L804.0,1029.5 L814.4,1036.1 L900.2,1067.2" />
<path class="k1" d="M779.8,1036.9 L798.9,1027.8 L807.5,1029.5 L810.1,1037.8" />
<path class="k1" d="M783.3,1041.3 L807.5,1046.5" />
<path class="w1" d="M822.5,1035.9 C830.7,1040.4 853.2,1052.9 871.9,1062.9 C890.6,1072.9 921.8,1089.4 934.8,1095.9 C947.8,1102.4 945.8,1100.7 949.8,1101.8 C953.8,1102.9 943.8,1104.4 958.8,1102.7 C973.8,1101.0 1007.5,1095.9 1040.0,1091.8 C1072.5,1087.7 1134.8,1080.5 1153.8,1078.3" style="stroke:none"/>
<path class="w1" d="M850.9,1049.4 L873.4,1046.4 L1060.0,1023.2 L1137.3,1011.7 L1242.2,998.6 L1279.6,1019.9 L1294.6,1079.8 L1281.1,1134.5 L1129.9,1153.1 L837.4,1193.1 L844.9,1122.8Z" style="stroke:none"/>
<path class="k1" d="M800.0,1043.4 L850.9,1049.4 L873.4,1046.4" />
<path class="k" d="M873.4,1046.4 C904.5,1042.5 1016.0,1029.0 1060.0,1023.2 C1104.0,1017.4 1124.4,1013.6 1137.3,1011.7" style="stroke-width:3.4"/>
<path class="k" d="M1137.3,1011.7 L1242.2,998.6" />
<path class="k" d="M822.5,1035.9 C830.7,1040.4 853.2,1052.9 871.9,1062.9 C890.6,1072.9 924.3,1090.4 934.8,1095.9" style="stroke-width:2.6"/>
<path class="k" d="M934.8,1095.9 C943.8,1101.1 949.8,1103.3 961.7,1102.3" style="stroke-width:2.6"/>
<path class="k" d="M961.7,1102.3 C974.8,1100.5 1008.0,1095.8 1040.0,1091.8 C1072.0,1087.8 1134.8,1080.5 1153.8,1078.3" style="stroke-width:2.6"/>
<path class="k1" d="M847.9,1122.8 C883.2,1118.8 1028.0,1102.5 1060.0,1098.8 C1092.0,1095.1 1024.9,1103.2 1040.0,1100.8 C1055.1,1098.4 1132.3,1087.3 1150.8,1084.6" />
<path d="M884.6,1051.7 L1083.4,1028.3" stroke="#1a1a18" stroke-width="5" stroke-linecap="round" fill="none"/>
<path d="M909.3,1061.1 L1153.1,1031.6" stroke="#1a1a18" stroke-width="5.6" stroke-linecap="round" fill="none"/><path d="M909.3,1061.1 L1153.1,1031.6" stroke="#fff" stroke-width="1.1" stroke-linecap="round" fill="none"/>
<path d="M952.0,1073.7 L1161.0,1048.1" stroke="#1a1a18" stroke-width="5.6" stroke-linecap="round" fill="none"/><path d="M952.0,1073.7 L1161.0,1048.1" stroke="#fff" stroke-width="1.1" stroke-linecap="round" fill="none"/>
<path class="w" d="M1096.9,1019.9 C1102.9,1018.2 1130.8,1015.7 1138.8,1015.7 C1146.8,1015.7 1150.8,1018.2 1144.8,1019.9 C1138.8,1021.6 1110.9,1025.9 1102.9,1025.9 C1094.9,1025.9 1090.9,1021.6 1096.9,1019.9Z" style="stroke-width:3"/>
<ellipse class="k1" cx="1114.9" cy="1020.7" rx="7" ry="3.2" transform="rotate(-8 1114.9 1020.7)" />
<path class="k" d="M1138.8,1011.7 C1141.3,1012.6 1148.8,1012.5 1153.8,1016.9 C1158.8,1021.3 1164.8,1030.4 1168.8,1037.9 C1172.8,1045.4 1176.8,1056.3 1177.8,1061.8 C1178.8,1067.3 1178.8,1068.5 1174.8,1071.1 C1170.8,1073.6 1157.3,1076.1 1153.8,1077.1" style="stroke-width:3"/>
<path class="k" d="M1153.1,1010.9 C1155.5,1012.9 1162.9,1016.4 1167.3,1022.9 C1171.7,1029.4 1177.0,1042.4 1179.3,1049.9 C1181.6,1057.4 1181.1,1063.8 1181.1,1067.8 C1181.1,1071.8 1179.6,1073.0 1179.3,1074.1" />
<path class="k" d="M1171.8,1009.1 C1174.5,1011.4 1183.8,1016.1 1188.3,1022.9 C1192.8,1029.7 1196.6,1042.4 1198.8,1049.9 C1201.0,1057.4 1201.4,1063.1 1201.7,1067.8 C1202.0,1072.5 1200.8,1076.5 1200.6,1078.3" />
<path class="b" d="M1153.8,1078.3 L1199.1,1073.8 L1198.8,1082.1 L1159.8,1086.7Z" />
<path class="k1" d="M1161.3,1084.3 L1195.8,1080.1" style="stroke:#fff;stroke-width:0.8"/>
<path class="k" d="M1201.7,1080.6 L1255.7,1072.6 C1267.6,1070.8 1272.9,1064.8 1272.9,1055.9 C1270.6,1031.9 1257.2,1004.9 1240.7,999.2" />
<path class="w" d="M1192.8,1030.4 C1193.8,1027.2 1198.0,1022.3 1204.7,1019.9 C1211.4,1017.5 1227.0,1014.2 1233.2,1016.2 C1239.5,1018.2 1241.2,1028.7 1242.2,1031.9 C1243.2,1035.1 1246.4,1034.0 1239.2,1035.2 C1232.0,1036.4 1206.5,1039.7 1198.8,1038.9 C1191.1,1038.1 1191.8,1033.6 1192.8,1030.4Z" />
<path class="b" d="M1205.5,1022.9 L1233.2,1019.2 L1239.2,1031.9 L1202.0,1035.8Z" />
<path class="w1" d="M1195.8,1031.9 L1201.0,1024.4 L1204.0,1025.9 L1199.1,1034.9Z" />
<path class="w1" d="M1206.2,1021.1 L1232.5,1017.7 L1233.2,1019.6 L1204.7,1023.5Z" style="stroke-width:0.8"/>
<ellipse class="k1" cx="1251.9" cy="1024.4" rx="4.6" ry="3.6" transform="rotate(20 1251.9 1024.4)" />
<path class="k" d="M830.0,1188.0 C831.2,1188.8 787.4,1198.9 837.4,1193.1 C887.4,1187.3 1056.0,1162.9 1129.9,1153.1 C1203.9,1143.3 1255.9,1137.6 1281.1,1134.5" />
<path class="k" d="M1281.1,1134.5 L1300.0,1153.1" />
<path class="k1" d="M1279.6,1136.0 L1279.6,1153.1" />
<path class="k" d="M800.4,1211.4 L1279.4,1156.0 L1300.0,1159.1" />
<path class="k" d="M760.0,1241.5 L1245.2,1182.4 L1279.4,1156.0" />
<path class="k1" d="M835.9,1192.1 L1279.4,1137.6" />
<path class="k1" d="M1279.4,1135.8 L1279.4,1156.0" />
<path class="k1" d="M1279.4,1135.8 L1300.0,1153.5" />
<path class="w" d="M824.0,1049.4 C827.7,1047.4 840.9,1047.9 844.9,1052.4 C848.9,1056.9 850.9,1072.1 847.9,1076.4 C844.9,1080.7 831.2,1080.2 827.0,1078.2 C822.8,1076.2 823.0,1069.2 822.5,1064.4 C822.0,1059.6 820.3,1051.4 824.0,1049.4Z" />
<ellipse class="w" cx="834.4" cy="1061.4" rx="11" ry="12.5" transform="rotate(10 834.4 1061.4)" />
<ellipse class="k1" cx="834.4" cy="1061.4" rx="4.6" ry="5.4" transform="rotate(10 834.4 1061.4)" />
<path class="k" d="M822.5,1077.9 C823.8,1079.9 827.3,1083.9 830.0,1089.9 C832.7,1095.9 836.4,1108.3 838.9,1113.8 C841.4,1119.3 842.4,1121.4 844.9,1122.8 C847.4,1124.2 850.9,1122.6 853.9,1122.1 C856.9,1121.6 861.4,1120.2 862.9,1119.8" />
<path class="k1" d="M827.0,1078.2 C828.2,1080.7 832.2,1087.5 834.4,1092.9 C836.6,1098.3 839.4,1107.8 840.4,1110.8" />
<rect class="w" x="807.2" y="1114.5" width="24" height="63" rx="12.0" transform="rotate(-4 819.2 1146.0)"/>
<rect class="k" x="809.5" y="1118.0" width="19.5" height="56" rx="9.75" transform="rotate(-4 819.2 1146.0)"/>
<rect class="k" x="812.2" y="1123.0" width="14" height="46" rx="7.0" transform="rotate(-4 819.2 1146.0)"/>
<rect class="k1" x="815.0" y="1128.0" width="8.5" height="36" rx="4.25" transform="rotate(-4 819.2 1146.0)"/>
<rect class="k1" x="817.2" y="1133.0" width="4" height="26" rx="2.0" transform="rotate(-4 819.2 1146.0)"/>
<path class="k" d="M809.0,1104.8 C808.2,1107.3 805.4,1112.3 804.5,1119.8 C803.6,1127.3 803.7,1141.1 803.7,1149.8 C803.7,1158.5 804.6,1165.0 804.5,1172.2 C804.4,1179.4 803.2,1189.6 803.0,1193.1" />
<path class="k" d="M821.0,1098.8 C822.5,1099.8 827.5,1101.3 830.0,1104.8 C832.5,1108.3 834.7,1114.8 835.9,1119.8 C837.1,1124.8 837.1,1132.3 837.4,1134.8" />
<ellipse class="k1" cx="825.5" cy="1112.3" rx="4.6" ry="5" />
<path class="k" d="M804.5,1172.2 C806.2,1173.7 810.8,1180.0 815.0,1181.2 C819.2,1182.5 826.4,1181.2 830.0,1179.7 C833.6,1178.2 835.5,1177.2 836.7,1172.2 C837.9,1167.2 837.3,1153.5 837.4,1149.8" />
<ellipse class="k1" cx="819.5" cy="1190.2" rx="4" ry="3" />
<ellipse class="w" cx="862.9" cy="1149.8" rx="12" ry="30" transform="rotate(-4 862.9 1149.8)" />
<ellipse class="k" cx="862.9" cy="1149.8" rx="10" ry="27" transform="rotate(-4 862.9 1149.8)" />
<ellipse class="k" cx="862.9" cy="1149.8" rx="7.5" ry="23" transform="rotate(-4 862.9 1149.8)" />
<ellipse class="k1" cx="862.9" cy="1149.8" rx="5" ry="18" transform="rotate(-4 862.9 1149.8)" />
<path class="k" d="M874.9,1134.8 L885.4,1143.8 L885.4,1165.5 L874.9,1170.7" />
<path class="k1" d="M877.9,1142.3 L881.6,1144.5 L881.6,1163.2 L877.9,1164.7" />
<path class="k" d="M838.9,1133.3 L852.4,1131.8" />
<path class="k" d="M838.9,1154.3 L851.7,1154.3" />
<path class="k" d="M1236.0,999.0 L1262.0,1003.6 C1270.6,1005.6 1273.5,1012.8 1273.5,1022.9 L1273.5,1060.4 C1272.9,1069.1 1267.7,1074.0 1260.5,1074.8 L1236.0,1076.8" />
<ellipse class="k1" cx="1252.7" cy="1024.4" rx="3.4" ry="2.6" transform="rotate(-20 1252.7 1024.4)" />
<path class="k" d="M1236.0,1144.0 L1279.3,1136.8 L1296.6,1154.1" />
<path class="k1" d="M1279.3,1136.8 L1279.3,1155.6" />
<path class="k1" d="M1236.0,1159.9 L1279.3,1155.6 L1296.6,1154.7" />
<path class="k" d="M1279.3,1157.0 L1246.1,1180.1 L1236.0,1182.4" />
<path class="w1" d="M1299.4,983.9 C1330.2,981.6 1434.8,961.7 1461.9,956.9 C1489.0,952.1 1458.5,955.6 1462.2,955.0 C1465.9,954.4 1476.6,949.9 1484.3,953.3 C1492.0,956.7 1502.0,965.0 1508.2,975.5 C1514.5,986.0 1518.4,1003.9 1521.8,1016.4 C1525.2,1028.9 1528.1,1036.6 1528.7,1050.5 C1529.3,1064.4 1525.8,1087.9 1525.3,1099.8 C1524.8,1111.7 1532.0,1116.7 1526.0,1121.7 C1520.0,1126.7 1495.9,1128.8 1489.3,1130.0 C1482.7,1131.2 1518.8,1123.7 1486.6,1128.6 C1454.4,1133.5 1330.1,1154.6 1296.4,1159.3 C1262.7,1164.0 1286.9,1161.0 1284.4,1157.0 C1281.9,1153.0 1280.2,1143.1 1281.5,1135.3 C1282.8,1127.5 1289.7,1119.1 1291.9,1109.9 C1294.1,1100.7 1295.2,1089.9 1294.9,1079.9 C1294.7,1069.9 1293.1,1060.0 1290.4,1050.0 C1287.7,1040.0 1281.7,1027.5 1278.5,1020.0 C1275.3,1012.5 1274.2,1010.8 1271.0,1004.8 C1267.8,998.8 1258.0,989.6 1259.0,983.9 C1260.0,978.2 1270.3,970.4 1277.0,970.4 C1283.7,970.4 1268.6,986.1 1299.4,983.9Z" style="stroke:none"/>
<ellipse class="w" cx="1678" cy="1017.3" rx="53.3" ry="120" transform="rotate(-8 1678 1017.3)" />
<ellipse class="k1" cx="1677.2" cy="1017.3" rx="50.4" ry="117" transform="rotate(-8 1677.2 1017.3)" />
<path class="k" d="M1617.3,943.4 L1634.4,919.2 C1642.9,907.3 1653.1,900.5 1665.1,898.4" />
<path class="w1" d="M1610,1115 L1640,1118 C1652,1124 1664,1131 1680,1135.5 L1700,1100 L1690,940 L1640,925 Z" style="stroke:none"/>
<path class="k" d="M1632,1112 C1644,1118 1662,1130 1684,1136" />
<ellipse class="w" cx="1633.7" cy="1017.7" rx="23" ry="75" transform="rotate(-10 1633.7 1017.7)" />
<ellipse class="w1" cx="1626.8" cy="1018.8" rx="24" ry="78.5" transform="rotate(-10 1626.8 1018.8)" />
<ellipse class="w" cx="1620.9" cy="1019.7" rx="25.5" ry="83.5" transform="rotate(-10 1620.9 1019.7)" />
<ellipse class="w" cx="1613.0" cy="1020.8" rx="25.5" ry="83.5" transform="rotate(-10 1613.0 1020.8)" />
<ellipse class="w1" cx="1606.0" cy="1021.9" rx="24" ry="79" transform="rotate(-10 1606.0 1021.9)" />
<ellipse class="w" cx="1603.8" cy="1022.2" rx="23" ry="75" transform="rotate(-10 1603.8 1022.2)" />
<ellipse class="w1" cx="1596.8" cy="1023.2" rx="24" ry="78.5" transform="rotate(-10 1596.8 1023.2)" />
<ellipse class="w" cx="1590.9" cy="1024.1" rx="25.5" ry="83.5" transform="rotate(-10 1590.9 1024.1)" />
<ellipse class="w" cx="1583.0" cy="1025.3" rx="25.5" ry="83.5" transform="rotate(-10 1583.0 1025.3)" />
<ellipse class="w1" cx="1576.1" cy="1026.4" rx="24" ry="79" transform="rotate(-10 1576.1 1026.4)" />
<ellipse class="w" cx="1573.8" cy="1026.7" rx="23" ry="75" transform="rotate(-10 1573.8 1026.7)" />
<ellipse class="w1" cx="1566.9" cy="1027.7" rx="24" ry="78.5" transform="rotate(-10 1566.9 1027.7)" />
<ellipse class="w" cx="1560.9" cy="1028.6" rx="25.5" ry="83.5" transform="rotate(-10 1560.9 1028.6)" />
<ellipse class="w" cx="1553.0" cy="1029.8" rx="25.5" ry="83.5" transform="rotate(-10 1553.0 1029.8)" />
<ellipse class="w1" cx="1546.1" cy="1030.8" rx="24" ry="79" transform="rotate(-10 1546.1 1030.8)" />
<ellipse class="w1" cx="1589.7" cy="1056.5" rx="1.9" ry="2.6" />
<path class="b" d="M1515.5,953.4 L1517.6,952.5 L1519.7,952.2 L1521.9,952.4 L1524.2,953.2 L1526.6,954.7 L1529.0,956.6 L1531.5,959.2 L1533.9,962.3 L1536.4,965.9 L1538.8,970.0 L1541.2,974.5 L1543.5,979.5 L1545.7,984.9 L1547.9,990.6 L1549.9,996.7 L1551.9,1003.0 L1553.7,1009.6 L1555.3,1016.3 L1556.8,1023.1 L1558.1,1030.1 L1559.2,1037.0 L1560.2,1044.0 L1560.9,1050.9 L1561.5,1057.6 L1561.9,1064.2 L1562.0,1070.6 L1561.9,1076.8 L1561.7,1082.6 L1561.2,1088.1 L1560.5,1093.2 L1559.6,1097.8 L1558.6,1102.1 L1557.3,1105.8 L1555.9,1109.0 L1554.3,1111.7 L1552.6,1113.9 L1550.7,1115.4 L1548.7,1116.4 L1546.5,1116.8 L1544.3,1116.7 L1509.7,1121.9 L1511.9,1122.0 L1514.1,1121.6 L1516.1,1120.6 L1518.0,1119.1 L1519.7,1116.9 L1521.3,1114.2 L1522.7,1111.0 L1524.0,1107.3 L1525.0,1103.0 L1525.9,1098.4 L1526.6,1093.3 L1527.1,1087.8 L1527.3,1082.0 L1527.4,1075.8 L1527.3,1069.4 L1526.9,1062.8 L1526.3,1056.1 L1525.6,1049.2 L1524.6,1042.2 L1523.5,1035.3 L1522.2,1028.3 L1520.7,1021.5 L1519.1,1014.8 L1517.3,1008.2 L1515.3,1001.9 L1513.3,995.8 L1511.1,990.1 L1508.9,984.7 L1506.6,979.7 L1504.2,975.2 L1501.8,971.1 L1499.3,967.5 L1496.9,964.4 L1494.4,961.8 L1492.0,959.9 L1489.6,958.4 L1487.3,957.6 L1485.1,957.4 L1483.0,957.7 L1480.9,958.6Z" style="stroke:#1a1a18;stroke-width:1.5"/>
<path d="M1505.3,962.5 L1523.1,959.8 M1506.3,963.7 L1524.1,961.0 M1507.3,965.0 L1525.1,962.3 M1508.3,966.3 L1526.1,963.6 M1509.3,967.8 L1527.1,965.1 M1510.3,969.3 L1528.1,966.6 M1511.3,970.9 L1529.1,968.2 M1512.3,972.6 L1530.1,969.9 M1513.3,974.3 L1531.1,971.6 M1514.3,976.2 L1532.1,973.5 M1515.3,978.1 L1533.1,975.4 M1516.3,980.1 L1534.1,977.4 M1517.2,982.2 L1535.0,979.5 M1518.2,984.3 L1536.0,981.6 M1519.1,986.5 L1536.9,983.8 M1520.0,988.7 L1537.8,986.0 M1520.9,991.1 L1538.7,988.4 M1521.8,993.4 L1539.6,990.7 M1522.7,995.9 L1540.5,993.2 M1523.5,998.4 L1541.3,995.7 M1524.3,1000.9 L1542.1,998.2 M1525.2,1003.5 L1543.0,1000.8 M1525.9,1006.1 L1543.7,1003.4 M1526.7,1008.8 L1544.5,1006.1 M1527.4,1011.5 L1545.2,1008.8 M1536.3,1075.7 L1554.1,1073.0 M1536.3,1078.2 L1554.1,1075.5 M1536.2,1080.7 L1554.0,1078.0 M1536.1,1083.2 L1553.9,1080.5 M1536.0,1085.5 L1553.8,1082.8 M1535.9,1087.9 L1553.7,1085.2 M1535.7,1090.1 L1553.5,1087.4 M1535.4,1092.3 L1553.2,1089.6 M1535.2,1094.5 L1553.0,1091.8 M1534.9,1096.5 L1552.7,1093.8 M1534.5,1098.5 L1552.3,1095.8 M1534.2,1100.5 L1552.0,1097.8 M1533.8,1102.3 L1551.6,1099.6 M1533.4,1104.1 L1551.2,1101.4 M1532.9,1105.8 L1550.7,1103.1 M1532.4,1107.4 L1550.2,1104.7 M1531.9,1108.9 L1549.7,1106.2 M1531.3,1110.4 L1549.1,1107.7 M1530.8,1111.7 L1548.6,1109.0 M1530.2,1113.0 L1548.0,1110.3 M1529.5,1114.2 L1547.3,1111.5" stroke="#6a6a68" stroke-width="0.6" fill="none"/>
<path class="k" d="M1473.9,960.4 L1475.8,959.1 L1477.9,958.4 L1480.1,958.3 L1482.4,958.8 L1484.8,959.9 L1487.2,961.6 L1489.7,963.9 L1492.2,966.8 L1494.7,970.2 L1497.2,974.1 L1499.6,978.5 L1502.0,983.4 L1504.3,988.7 L1506.5,994.4 L1508.7,1000.4 L1510.7,1006.7 L1512.5,1013.3 L1514.3,1020.1 L1515.8,1027.0 L1517.2,1034.0 L1518.4,1041.1 L1519.5,1048.2 L1520.3,1055.2 L1520.9,1062.1 L1521.3,1068.8 L1521.5,1075.4 L1521.5,1081.6 L1521.2,1087.6 L1520.8,1093.3 L1520.1,1098.5 L1519.3,1103.3 L1518.2,1107.7 L1517.0,1111.5 L1515.5,1114.8 L1513.9,1117.6 L1512.2,1119.8 L1510.3,1121.5 L1508.2,1122.5 L1506.1,1122.9 L1503.8,1122.8" />
<path class="k1" d="M1467.9,961.3 L1469.8,960.0 L1471.9,959.3 L1474.1,959.2 L1476.4,959.7 L1478.8,960.8 L1481.2,962.5 L1483.7,964.8 L1486.2,967.7 L1488.7,971.1 L1491.2,975.0 L1493.6,979.4 L1496.0,984.3 L1498.3,989.6 L1500.5,995.3 L1502.7,1001.3 L1504.7,1007.6 L1506.5,1014.2 L1508.3,1021.0 L1509.8,1027.9 L1511.2,1034.9 L1512.4,1042.0 L1513.5,1049.1 L1514.3,1056.1 L1514.9,1063.0 L1515.3,1069.7 L1515.5,1076.3 L1515.5,1082.5 L1515.2,1088.5 L1514.8,1094.2 L1514.1,1099.4 L1513.3,1104.2 L1512.2,1108.6 L1511.0,1112.4 L1509.5,1115.7 L1507.9,1118.5 L1506.2,1120.7 L1504.3,1122.4 L1502.2,1123.4 L1500.1,1123.8 L1497.8,1123.7" />
<path class="k" d="M1284.7,1157.2 C1285.7,1157.5 1288.5,1159.0 1290.4,1159.3 C1292.4,1159.6 1295.4,1159.3 1296.4,1159.3" />
<path class="k" d="M1296.4,1159.3 C1328.1,1154.2 1448.3,1134.8 1486.6,1128.6 C1524.9,1122.4 1519.4,1123.1 1526.0,1122.0" />
<path class="k1" d="M1486.6,1128.6 C1488.1,1128.5 1492.6,1129.0 1495.6,1128.1 C1498.6,1127.2 1502.2,1125.1 1504.6,1123.3 C1507.0,1121.5 1509.1,1118.3 1510.0,1117.3" />
<path class="k" d="M1270.6,1004.2 C1271.9,1006.8 1275.2,1012.4 1278.5,1020.0 C1281.8,1027.6 1287.7,1040.0 1290.4,1050.0 C1293.1,1060.0 1294.7,1069.9 1294.9,1079.9 C1295.2,1089.9 1294.1,1100.7 1291.9,1109.9 C1289.7,1119.1 1283.2,1131.1 1281.5,1135.3" />
<path class="k" d="M1298.0,991.2 C1299.7,996.0 1305.2,1010.2 1308.4,1020.0 C1311.6,1029.8 1315.4,1040.0 1317.4,1050.0 C1319.4,1060.0 1320.7,1068.7 1320.4,1079.9 C1320.2,1091.1 1318.2,1106.8 1315.9,1117.3 C1313.7,1127.8 1310.2,1136.4 1306.9,1142.8 C1303.7,1149.2 1298.2,1153.4 1296.4,1155.5" />
<path class="k" d="M1305.2,995.5 C1307.7,999.6 1316.6,1010.9 1320.4,1020.0 C1324.2,1029.1 1326.3,1040.0 1327.9,1050.0 C1329.5,1060.0 1330.6,1067.9 1330.1,1079.9 C1329.6,1091.9 1327.5,1110.6 1324.9,1121.8 C1322.3,1133.0 1318.7,1141.0 1314.4,1147.3 C1310.2,1153.5 1301.9,1157.3 1299.4,1159.3" />
<path class="k" d="M1247.5,1001.9 C1248.5,999.0 1249.9,989.2 1253.3,984.6 C1256.7,980.0 1262.7,976.5 1267.7,974.5 C1272.8,972.5 1278.5,971.4 1283.6,972.5 C1288.6,973.6 1294.4,977.3 1298.0,981.1 C1301.6,984.9 1304.0,993.1 1305.2,995.5" />
<path class="k1" d="M1257.6,999.0 C1258.8,996.6 1261.2,988.0 1264.8,984.6 C1268.4,981.2 1274.7,978.7 1279.3,978.8 C1283.9,978.9 1289.1,983.3 1292.2,985.4 C1295.3,987.5 1297.0,990.2 1298.0,991.2" />
<path class="k1" d="M1241.8,995.5 C1243.0,992.9 1245.2,984.1 1249.0,979.7 C1252.8,975.3 1259.8,970.9 1264.8,969.0 C1269.8,967.1 1276.9,968.2 1279.3,968.1" />
<path class="k" d="M1283.6,947.1 L1279.3,969.0" />
<path class="k1" d="M1289.3,956.6 L1287.3,973.0" />
<path class="k1" d="M1297.4,961.5 L1296.8,978.8" />
<path class="k1" d="M1279.3,969.0 L1298.0,981.1" />
<path class="k1" d="M1298.0,991.2 L1302.9,987.5 L1308.1,995.5" />
<path class="k" d="M1299.4,983.9 C1301.7,985.6 1308.7,990.9 1312.9,994.4 C1317.2,997.9 1317.9,998.6 1324.9,1004.8 C1331.9,1011.0 1344.8,1024.0 1354.8,1031.8 C1364.8,1039.5 1377.0,1047.0 1384.8,1051.3 C1392.5,1055.5 1396.8,1056.1 1401.3,1057.3 C1405.8,1058.5 1408.2,1058.5 1411.7,1058.2 C1415.2,1058.0 1419.2,1057.0 1422.2,1055.8 C1425.2,1054.6 1425.2,1055.3 1429.7,1051.3 C1434.2,1047.3 1443.5,1039.5 1449.2,1031.8 C1455.0,1024.0 1460.7,1012.8 1464.2,1004.8 C1467.8,996.8 1470.1,990.4 1470.5,983.9 C1470.9,977.4 1467.8,970.4 1466.4,965.9 C1465.0,961.4 1462.7,958.4 1461.9,956.9" />
<path class="k1" d="M1302.4,991.4 C1306.2,994.5 1316.2,1002.6 1324.9,1010.1 C1333.6,1017.6 1345.3,1029.1 1354.8,1036.3 C1364.3,1043.5 1377.3,1050.6 1381.8,1053.5" />
<path class="k1" d="M1467.2,971.9 C1467.3,974.4 1468.9,980.9 1467.9,986.9 C1466.9,992.9 1464.6,1000.7 1461.2,1007.8 C1457.8,1014.9 1452.5,1023.0 1447.7,1029.5 C1443.0,1036.0 1435.2,1043.9 1432.7,1046.8" />
<path class="k" d="M1462.7,957.2 L1480.6,954.2" />
<path class="k1" d="M1464.2,960.2 L1479.1,959.3" />
<path class="k1" d="M1465.7,964.7 L1477.6,963.2" />
<ellipse class="b" cx="1372.5" cy="955.8" rx="88.7" ry="28.8" transform="rotate(1.5 1372.5 955.8)" />
<ellipse class="k1" cx="1372.5" cy="957.0" rx="89.2" ry="29" transform="rotate(1.5 1372.5 957.0)" />
<ellipse class="b" cx="1372.5" cy="951.4" rx="88.7" ry="28.8" transform="rotate(1.5 1372.5 951.4)" />
<ellipse class="w1" cx="1373.1" cy="949.8" rx="76" ry="20.6" transform="rotate(1.5 1373.1 949.8)" />
<ellipse class="w" cx="1372.5" cy="951.6999999999999" rx="65.5" ry="16.5" transform="rotate(1.5 1372.5 951.6999999999999)" style="stroke-width:3"/>
<path d="M1296.1,935.0 l0,-1.5 M1298.5,933.8 l0,-1.5 M1301.2,932.6 l0,-1.5 M1304.1,931.5 l0,-1.5 M1307.1,930.4 l0,-1.5 M1310.3,929.4 l0,-1.5 M1313.7,928.5 l0,-1.5 M1317.3,927.6 l0,-1.5 M1321.0,926.7 l0,-1.5 M1324.8,926.0 l0,-1.5 M1328.8,925.3 l0,-1.5 M1332.9,924.7 l0,-1.5 M1337.1,924.2 l0,-1.5 M1341.4,923.7 l0,-1.5 M1345.8,923.3 l0,-1.5 M1350.3,923.0 l0,-1.5 M1354.8,922.8 l0,-1.5 M1359.4,922.6 l0,-1.5 M1364.0,922.5 l0,-1.5 M1368.6,922.5 l0,-1.5 M1373.3,922.6 l0,-1.5 M1377.9,922.8 l0,-1.5 M1382.5,923.0 l0,-1.5 M1387.1,923.3 l0,-1.5 M1391.7,923.7 l0,-1.5 M1396.2,924.2 l0,-1.5 M1400.6,924.7 l0,-1.5 M1405.0,925.4 l0,-1.5 M1409.3,926.0 l0,-1.5 M1413.4,926.8 l0,-1.5 M1417.5,927.6 l0,-1.5 M1421.4,928.5 l0,-1.5 M1425.2,929.5 l0,-1.5 M1428.9,930.5 l0,-1.5 M1432.4,931.6 l0,-1.5 M1435.7,932.7 l0,-1.5 M1438.9,933.9 l0,-1.5" stroke="#1a1a18" stroke-width="1.2" fill="none"/>
<path class="k1" d="M1458.0,962.7 L1456.5,964.5 L1454.6,966.2 L1452.4,968.0 L1449.8,969.6 L1446.8,971.2 L1443.5,972.7 L1439.8,974.1 L1435.8,975.4 L1431.6,976.7 L1427.0,977.8 L1422.3,978.8 L1417.2,979.7 L1412.0,980.5 L1406.6,981.2 L1401.0,981.8 L1395.3,982.2 L1389.5,982.5 L1383.7,982.6 L1377.7,982.7 L1371.8,982.6 L1365.8,982.4 L1359.9,982.0 L1354.0,981.5 L1348.2,980.9 L1342.6,980.2 L1337.0,979.4 L1331.7,978.4 L1326.5,977.4 L1321.5,976.2 L1316.8,974.9 L1312.4,973.5 L1308.2,972.1 L1304.3,970.6 L1300.7,968.9 L1297.5,967.3 L1294.6,965.5 L1292.0,963.8 L1289.9,961.9 L1288.1,960.1 L1286.7,958.2" style="stroke:#fff;stroke-width:1.1;stroke-dasharray:1.2 2.2;stroke-linecap:butt"/>
<path class="w" d="M1316.6,952.4 C1317.8,949.9 1323.0,945.4 1327.9,943.4 C1332.8,941.4 1339.9,940.5 1345.9,940.1 C1351.9,939.7 1360.6,940.2 1363.8,941.2 C1367.0,942.2 1366.8,944.6 1365.3,946.4 C1363.8,948.1 1360.0,949.8 1354.8,951.7 C1349.6,953.6 1339.6,956.6 1333.9,957.7 C1328.2,958.8 1323.3,959.3 1320.4,958.4 C1317.5,957.5 1315.3,954.9 1316.6,952.4Z" style="stroke-width:2.4"/>
<path class="w" d="M1381.8,944.9 C1383.5,943.5 1388.3,940.8 1393.8,940.1 C1399.3,939.4 1408.7,939.7 1414.7,940.7 C1420.7,941.8 1426.3,944.0 1429.7,946.4 C1433.1,948.8 1435.2,952.8 1435.0,955.4 C1434.8,958.0 1431.6,961.5 1428.2,962.2 C1424.8,963.0 1420.4,961.5 1414.7,959.9 C1409.0,958.3 1399.0,954.3 1393.8,952.4 C1388.6,950.5 1385.3,950.0 1383.3,948.7 C1381.3,947.5 1380.0,946.3 1381.8,944.9Z" style="stroke-width:2.4"/>
<path class="w" d="M1330.9,962.9 C1331.9,960.8 1347.6,956.5 1354.8,954.7 C1362.0,953.0 1367.8,952.2 1374.3,952.4 C1380.8,952.6 1386.8,953.8 1393.8,955.7 C1400.8,957.6 1415.2,961.7 1416.2,963.7 C1417.2,965.7 1406.8,966.8 1399.8,967.7 C1392.8,968.6 1382.8,969.0 1374.3,968.9 C1365.8,968.8 1356.0,968.4 1348.8,967.4 C1341.6,966.4 1329.9,965.0 1330.9,962.9Z" style="stroke-width:2.4"/>
<path class="k1" d="M1369.8,939.2 L1378.8,939.2" />
<path class="k" d="M1333.9,943.7 L1353.3,948.7" style="stroke-width:4.5"/>
<ellipse class="w1" cx="1402.8" cy="946.7" rx="16.5" ry="6" transform="rotate(5 1402.8 946.7)" />
<path d="M1385.5,943.6 L1391.3,946.8 M1388.2,943.5 L1395.8,947.7 M1391.4,943.7 L1399.8,948.3 M1394.7,943.9 L1403.7,948.9 M1398.2,944.2 L1407.4,949.2 M1401.9,944.6 L1410.9,949.6 M1405.8,945.2 L1414.2,949.8 M1409.7,945.8 L1417.3,950.0 M1414.2,946.6 L1420.0,949.8" stroke="#1a1a18" stroke-width="1.4" fill="none"/>
<path class="k" d="M1360.8,962.2 L1381.8,959.9" style="stroke-width:3"/>
<path class="k" d="M1368.3,957.7 L1375.8,965.1" style="stroke-width:2.4"/>
<g transform="translate(1412,1079.9) rotate(-8.75)"><rect x="-52.7" y="-14.5" width="105.4" height="29" rx="14.5" fill="#fff" stroke="#1a1a18" stroke-width="3"/><circle cx="-41.5" cy="0.4" r="8.6" fill="#fff" stroke="#1a1a18" stroke-width="1.8"/><path d="M-49,3 C-44,2 -42,-1 -40.5,-6.5 M-42.5,7.5 C-41,2.5 -38.5,0 -33.5,-1.5" fill="none" stroke="#1a1a18" stroke-width="1.6"/><text x="-27.5" y="5.6" font-family="Liberation Sans, sans-serif" font-weight="bold" font-style="italic" font-size="15" textLength="71" lengthAdjust="spacingAndGlyphs" fill="#fff" stroke="#1a1a18" stroke-width="2.6" paint-order="stroke" stroke-linejoin="round">PULSAR</text></g>

</g>
<g id="scope1">
<path class="w1" d="M995.9,619.8 L1049.8,589.8 L1074.5,574.8 L1106,540 L1223,543 L1300,560 L1322,640 L1318,700 L1290,750 L1259.8,758.3 L1181.9,768.8 L1110,784.5 L1030.3,796.1 L977.9,781.5 Z" style="stroke:none"/>
<path class="k" d="M1306.2,578.3 C1307.5,582.0 1311.5,592.6 1313.7,600.8 C1316.0,609.0 1318.2,621.2 1319.7,627.7 C1321.2,634.2 1322.0,634.2 1322.7,640.0 C1323.4,645.8 1324.2,654.5 1323.9,662.5 C1323.7,670.5 1322.8,679.9 1321.2,687.9 C1319.6,695.9 1316.7,704.0 1314.4,710.4 C1312.2,716.8 1308.8,723.5 1307.7,726.1" />
<path class="k" d="M1302.5,582.8 C1303.7,586.3 1307.7,596.1 1309.9,603.8 C1312.1,611.5 1314.4,623.2 1315.9,629.2 C1317.4,635.2 1318.2,634.5 1318.9,640.0 C1319.6,645.5 1320.3,654.5 1320.1,662.5 C1319.8,670.5 1318.9,680.4 1317.4,687.9 C1316.0,695.4 1313.0,702.4 1311.4,707.4 C1309.8,712.4 1308.6,716.1 1308.0,717.9" />
<path class="k" d="M1300.2,735.1 C1298.7,737.1 1295.2,743.8 1291.2,747.1 C1287.2,750.4 1282.4,752.9 1276.2,755.0 C1270.0,757.1 1257.5,759.0 1253.8,759.8" />
<path class="k1" d="M1253.8,758.3 L1265.8,763.6 L1274.7,762.1 L1274.7,756.1" />
<path class="k1" d="M1265.8,763.6 L1266.1,756.8" />
<path class="k" d="M1213.3,529.2 C1216.0,530.2 1224.5,531.5 1229.8,534.9 C1235.0,538.3 1239.8,542.9 1244.8,549.9 C1249.8,556.9 1255.3,566.8 1259.8,576.8 C1264.3,586.8 1268.2,599.3 1271.7,609.8 C1275.2,620.3 1278.6,630.0 1280.7,640.0 C1282.8,650.0 1284.2,660.0 1284.5,670.0 C1284.8,680.0 1284.1,689.9 1282.2,699.9 C1280.3,709.9 1276.9,721.4 1273.2,729.9 C1269.5,738.4 1264.5,745.8 1259.8,750.8 C1255.1,755.8 1247.3,758.3 1244.8,759.8" />
<path class="k" d="M1214.8,525.9 C1217.8,526.9 1227.0,528.1 1232.8,531.9 C1238.5,535.6 1244.0,541.2 1249.3,548.4 C1254.5,555.6 1259.9,565.3 1264.3,575.3 C1268.7,585.3 1272.1,597.5 1275.5,608.3 C1278.9,619.1 1282.5,629.7 1284.5,640.0 C1286.5,650.3 1287.1,660.0 1287.2,670.0 C1287.3,680.0 1286.8,689.9 1284.9,699.9 C1283.0,709.9 1279.6,721.4 1275.9,729.9 C1272.2,738.4 1267.0,745.9 1262.8,750.8 C1258.6,755.7 1252.8,757.7 1250.8,759.1" />
<path class="k" d="M1228.2,555.9 C1229.5,558.1 1232.4,561.3 1235.8,568.9 C1239.2,576.5 1245.3,591.5 1248.8,601.4 C1252.2,611.3 1254.5,618.8 1256.5,628.5 C1258.5,638.2 1260.0,651.8 1260.8,659.9 C1261.6,668.0 1262.0,670.7 1261.6,677.4 C1261.2,684.1 1260.3,691.1 1258.3,699.9 C1256.2,708.6 1252.8,721.4 1249.3,729.9 C1245.8,738.4 1241.5,745.6 1237.3,750.8 C1233.0,756.0 1226.0,759.5 1223.8,761.3" />
<path class="k" d="M1205.9,528.1 C1207.4,528.5 1211.8,527.5 1214.8,530.4 C1217.8,533.3 1221.8,541.1 1223.8,545.4 C1225.8,549.6 1224.3,550.2 1226.8,555.9 C1229.3,561.6 1235.5,572.8 1238.8,579.8 C1242.0,586.8 1245.3,592.8 1246.3,597.8 C1247.3,602.8 1247.5,605.3 1244.8,609.8 C1242.0,614.3 1234.3,619.7 1229.8,624.7 C1225.3,629.7 1220.7,636.4 1217.8,639.7 C1214.9,643.0 1213.7,641.2 1212.4,644.5 C1211.1,647.8 1210.5,654.8 1210.0,659.5 C1209.5,664.2 1209.5,667.4 1209.6,672.9 C1209.6,678.4 1210.9,685.4 1210.3,692.4 C1209.7,699.4 1208.1,706.7 1205.9,714.9 C1203.7,723.1 1200.9,733.1 1196.9,741.8 C1192.9,750.5 1184.4,763.0 1181.9,767.3" />
<path class="k" d="M1121.7,567.3 C1124.7,572.3 1134.4,585.2 1139.6,597.3 C1144.8,609.4 1149.8,625.4 1153.1,640 C1156.4,654.6 1159.1,671.2 1159.4,684.9 C1159.7,698.6 1158.1,710.4 1154.9,722.4 C1151.7,734.4 1145.5,747.6 1140,756.8 C1134.5,766.0 1127.0,773.3 1122,777.8 C1117.0,782.3 1112.0,782.8 1110,783.8" />
<path class="k" d="M1074.5,574.8 C1077.4,579.8 1086.6,593.9 1091.7,604.8 C1096.8,615.7 1101.7,626.6 1105.2,640 C1108.7,653.4 1112.0,669.9 1112.7,684.9 C1113.5,699.9 1112.2,716.7 1109.7,729.9 C1107.2,743.1 1103.2,754.3 1097.7,764.3 C1092.2,774.3 1080.2,785.5 1076.7,789.8" />
<path class="k" d="M1049.8,589.8 C1051.8,593.5 1058.0,603.9 1061.7,612.3 C1065.4,620.7 1069.0,627.9 1072.2,640 C1075.5,652.1 1079.6,672.4 1081.2,684.9 C1082.8,697.4 1082.8,704.9 1082,714.9 C1081.2,724.9 1079.6,735.3 1076.7,744.8 C1073.8,754.3 1070.2,763.5 1064.7,771.8 C1059.2,780.0 1047.3,790.5 1043.8,794.3" />
<path class="k" d="M995.9,619.8 C997.4,622.7 1001.1,628.6 1004.8,637 C1008.5,645.4 1015.3,659.5 1018.3,670 C1021.3,680.5 1022.5,689.9 1022.8,699.9 C1023.0,709.9 1022.3,719.9 1019.8,729.9 C1017.3,739.9 1012.8,751.8 1007.8,759.8 C1002.8,767.8 994.9,774.2 989.9,777.8 C984.9,781.4 979.9,780.9 977.9,781.5" style="stroke-width:2.6"/>
<path class="k1" d="M993.1,620.3 C994.6,623.2 998.3,629.1 1002.0,637.5 C1005.7,645.9 1012.5,660.0 1015.5,670.5 C1018.5,681.0 1019.8,690.4 1020.0,700.4 C1020.2,710.4 1019.5,720.4 1017.0,730.4 C1014.5,740.4 1007.0,755.3 1005.0,760.3" />
<path class="k" d="M977.9,781.5 L1030.3,796.1 C1040,797 1046,794.6 1055,792.6 L1110,784.5 L1162.4,775.5 C1172,773.5 1178,770.5 1181.9,768.8 L1223.8,761.5" />
<ellipse class="b" cx="1091.4" cy="661.7" rx="4.2" ry="4.8" />
<ellipse class="b" cx="1270.3" cy="692.4" rx="4.3" ry="4.9" />
<path class="k" d="M1125.0,546.9 L1205.9,534.6" />
<path class="k1" d="M1125.7,551.7 L1213.3,539.1" />
<path class="k" d="M1128.0,575.3 L1226.1,558.8" />
<path class="k" d="M1110.0,530.4 C1111.2,531.6 1115.5,534.4 1117.5,537.9 C1119.5,541.4 1121.5,546.9 1122.0,551.4 C1122.5,555.9 1120.5,562.6 1120.5,564.8 C1120.5,567.0 1118.8,559.8 1122.0,564.8 C1125.2,569.8 1135.0,583.6 1140.0,594.8 C1145.0,606.0 1149.2,622.5 1151.9,632.2 C1154.6,641.9 1155.7,649.6 1156.4,653.1" />
<path class="k1" d="M1110.0,537.9 C1110.8,539.4 1113.4,543.7 1114.5,546.9 C1115.6,550.1 1116.6,553.6 1116.7,557.3 C1116.8,561.0 1115.5,567.3 1115.2,569.3" />
<path class="k1" d="M1110.0,570.1 L1116.0,569.3 L1116.0,552.9 L1110.0,553.6" />
<path class="b" d="M1106.7,518.1 L1169.9,507.2 L1175.9,507.9 L1199.9,524.4 L1125.0,535.2 L1122.7,531.9 L1118.2,530.4 L1116.0,525.9 L1110.0,526.6Z" />
<path class="k1" d="M1119.0,527.1 L1181.9,517.7" style="stroke:#fff;stroke-width:0.8"/>
<path class="k1" d="M1123.5,531.1 L1189.4,521.4" style="stroke:#fff;stroke-width:0.8"/>
<path class="k" d="M1199.9,524.4 C1201.4,521.6 1205.8,513.6 1208.8,507.9 C1211.8,502.2 1215.3,494.6 1217.8,490.0 C1220.3,485.4 1220.5,482.9 1223.8,480.2 C1227.0,477.4 1233.0,474.2 1237.3,473.5 C1241.5,472.8 1247.3,475.3 1249.3,475.7" />
<path class="k" d="M1249.3,475.7 L1310.7,519.9" />
<path class="k" d="M1310.7,519.9 C1311.4,521.6 1314.4,526.4 1314.9,530.4 C1315.4,534.4 1314.8,539.6 1313.7,543.9 C1312.6,548.1 1309.9,552.4 1308.4,555.9 C1306.9,559.4 1305.1,560.8 1304.7,564.8 C1304.3,568.8 1305.9,574.4 1305.9,579.8 C1305.9,585.2 1304.9,594.1 1304.7,597.0" />
<path class="k" d="M1304.7,597.0 C1304.0,595.6 1302.2,593.2 1300.2,588.8 C1298.2,584.4 1294.8,576.3 1292.7,570.8 C1290.6,565.3 1287.0,557.9 1287.5,555.9 C1288.0,553.9 1293.1,558.8 1295.7,558.8 C1298.3,558.8 1302.0,556.4 1303.2,555.9" />
<path class="k" d="M1286.7,530.4 C1286.0,533.6 1283.3,542.7 1282.2,549.9 C1281.1,557.1 1279.8,565.3 1280.0,573.8 C1280.2,582.3 1283.8,596.5 1283.7,600.8 C1283.6,605.0 1281.0,602.3 1279.2,599.3 C1277.5,596.3 1275.4,588.5 1273.2,582.8 C1271.0,577.0 1268.3,570.3 1265.8,564.8 C1263.3,559.3 1259.5,552.4 1258.3,549.9" />
<path class="k" d="M1286.7,530.4 C1287.5,528.6 1288.5,522.0 1291.2,519.9 C1294.0,517.8 1300.0,517.7 1303.2,517.7 C1306.5,517.7 1309.5,519.5 1310.7,519.9" />
<path class="k1" d="M1289.0,552.9 C1290.1,556.4 1293.6,567.3 1295.7,573.8 C1297.8,580.3 1300.7,588.8 1301.7,591.8" />
<path class="k1" d="M1284.5,534.9 C1284.1,539.9 1282.3,554.8 1282.2,564.8 C1282.1,574.8 1283.5,589.8 1283.7,594.8" />
<ellipse class="k" cx="1299.9" cy="537.9" rx="8.6" ry="10.4" transform="rotate(20 1299.9 537.9)" style="stroke-width:2.4"/>
<ellipse class="k1" cx="1299.0" cy="537.3" rx="5.2" ry="6.6" transform="rotate(20 1299.0 537.3)" />
<path class="k" d="M1229.8,519.9 C1229.0,518.9 1225.3,517.9 1225.3,513.9 C1225.3,509.9 1228.0,500.6 1229.8,495.9 C1231.5,491.2 1232.3,488.2 1235.8,485.5 C1239.3,482.8 1248.3,480.5 1250.8,479.5" style="stroke-width:2.6"/>
<path class="k1" d="M1217.8,490.0 L1229.8,496.7" />
<path class="k" d="M1268.8,537.9 C1269.5,535.4 1271.2,526.9 1273.2,522.9 C1275.2,518.9 1277.7,516.0 1280.7,513.9 C1283.7,511.8 1289.5,510.8 1291.2,510.2" style="stroke-width:2.6"/>
<path class="k" d="M1229.8,519.9 L1265.8,548.4 L1268.8,537.9" style="stroke-width:2.6"/>
<path class="k1" d="M1273.2,530.4 L1286.7,539.4" />
<path class="k1" d="M1241.8,507.9 L1246.3,511.7 L1244.8,519.9" />
<path class="k1" d="M1232.8,520.7 L1244.8,519.9 L1246.3,524.4" />
<path class="k1" d="M1207.3,527.4 C1210.0,527.9 1218.5,528.1 1223.8,530.4 C1229.0,532.6 1232.8,537.6 1238.8,540.9 C1244.8,544.1 1256.3,548.4 1259.8,549.9" />
<path class="w1" d="M483,686 L568.8,677.7 L600,690 L612,756 L935.6,705.4 L944,700 L946,730 L940,750 L925.1,763 L690,802 L511.9,831.6 L470,870 L440,800 Z" style="stroke:none"/>
<path class="k" d="M511.9,826.5 C541.6,822.4 621.1,812.6 690.0,802.0 C758.9,791.4 885.9,769.5 925.1,763.0" style="stroke-width:2.6"/>
<path class="k1" d="M502.9,845.7 C537.3,840.3 635.0,824.6 709.5,813.1 C784.0,801.6 909.9,782.6 950.0,776.5" />
<path class="k" d="M494.8,844.0 L512.1,862.8 L940.0,797.0" />
<path class="k1" d="M502.0,828.2 L513.5,841.1 L940.0,774.8" />
<path class="k1" d="M512.1,862.8 L513.5,841.1" />
<path class="k1" d="M925.1,763.0 L950.0,773.1" />
<path class="k1" d="M900.0,785.3 L957.7,775.5" />
<path class="k" d="M924.0,762.5 C929.6,764.7 948.7,772.3 957.7,775.5 C966.7,778.7 974.5,780.5 977.9,781.5" />
<path class="k1" d="M926.2,765.1 L959.9,778.1" />
<path class="k" d="M900.0,802.5 L973.4,789.8 L976.7,782.3" />
<path class="k1" d="M973.4,789.8 L989.9,787.5" />
<path class="k" d="M934.7,658.0 C936.2,662.5 941.5,676.7 943.4,684.9 C945.3,693.1 946.3,699.4 946.4,707.4 C946.5,715.4 945.6,725.4 943.7,732.9 C941.8,740.4 938.5,747.4 935.2,752.3 C931.9,757.2 925.9,760.7 924.0,762.4" />
<path class="k" d="M935.9,658.0 L949.4,649.3 L959.9,677.4 L962.9,701.4 L946.4,700.7" />
<path class="k1" d="M935.2,664.0 C936.2,667.5 939.8,678.4 941.2,684.9 C942.6,691.4 943.0,699.9 943.4,702.9" />
<path class="k" d="M523.9,685.8 L540.6,752.9 C543.3,763.3 546.3,768.1 558.3,765.6 L612.2,756.2" />
<path class="k3" d="M612.2,756.2 C625.2,754.4 636.1,753.6 690.0,745.1 C743.9,736.6 894.7,712.0 935.6,705.4" />
<path class="k" d="M935.6,705.4 C936.6,705.0 940.1,704.4 941.6,703.1 C943.1,701.9 944.1,698.8 944.6,697.9" />
<path class="k" d="M484.9,688.8 L564.3,678.3 C577.8,676.8 588.3,685.5 595.8,699.2" />
<path class="k" d="M604.7,693.7 C618.9,691.5 657.2,686.1 690.0,680.7 C722.8,675.3 783.0,664.5 801.6,661.2" style="stroke-width:2.6"/>
<path class="k1" d="M609.2,709.7 C622.7,707.7 657.2,702.9 690.0,697.9 C722.8,692.9 786.8,682.9 806.1,679.9" />
<path class="k1" d="M618.2,737.9 C636.9,736.0 692.2,731.3 730.4,726.3 C768.6,721.2 827.8,710.7 847.3,707.6" />
<path class="k" d="M597.3,710.2 L606.2,709.4 L615.5,753.6" />
<path class="k1" d="M599.1,712.1 L609.5,755.9" />
<path class="k1" d="M609.2,713.9 L613.7,717.2 L618.5,751.4" />
<ellipse class="w1" cx="727.4" cy="732.3" rx="6.8" ry="3.2" transform="rotate(-9 727.4 732.3)" />
<ellipse class="k1" cx="727.4" cy="731.0999999999999" rx="5" ry="2.1" transform="rotate(-9 727.4 731.0999999999999)" style="stroke-width:1"/>
<ellipse class="w1" cx="765.6" cy="725.1" rx="6.8" ry="3.2" transform="rotate(-9 765.6 725.1)" />
<ellipse class="k1" cx="765.6" cy="723.9" rx="5" ry="2.1" transform="rotate(-9 765.6 723.9)" style="stroke-width:1"/>
<ellipse class="w1" cx="804.6" cy="719.1" rx="6.8" ry="3.2" transform="rotate(-9 804.6 719.1)" />
<ellipse class="k1" cx="804.6" cy="717.9" rx="5" ry="2.1" transform="rotate(-9 804.6 717.9)" style="stroke-width:1"/>
<ellipse class="w1" cx="844.3" cy="713.5" rx="6.8" ry="3.2" transform="rotate(-9 844.3 713.5)" />
<ellipse class="k1" cx="844.3" cy="712.3" rx="5" ry="2.1" transform="rotate(-9 844.3 712.3)" style="stroke-width:1"/>
<ellipse class="w1" cx="649.7" cy="744.2" rx="6.8" ry="3.2" transform="rotate(-9 649.7 744.2)" />
<ellipse class="k1" cx="649.7" cy="743.0" rx="5" ry="2.1" transform="rotate(-9 649.7 743.0)" style="stroke-width:1"/>
<path class="k1" d="M704.2,731.6 L712.5,738.3 L740.9,733.8 L732.7,726.6" />
<path class="w" d="M550.1,711.7 C552.8,708.8 559.7,701.3 567.3,698.6 C574.9,695.9 590.8,695.0 595.8,695.3 C600.8,695.6 598.0,697.5 597.6,700.4 C597.2,703.3 594.7,709.8 593.1,712.7 C591.5,715.7 594.1,716.6 588.3,718.1 C582.5,719.6 564.5,722.0 558.3,721.7 C552.1,721.4 552.5,717.9 551.1,716.2 C549.7,714.5 547.4,714.6 550.1,711.7Z" />
<path class="b" d="M555.3,715.1 L569.1,704.3 L594.6,701.3 L592.2,711.8 L558.6,716.6Z" />
<path class="w1" d="M555.6,713.6 L567.3,704.3 L570.6,705.5 L558.6,714.8Z" style="stroke-width:0.8"/>
<ellipse class="k1" cx="538.1" cy="714.2" rx="4.2" ry="4.8" transform="rotate(-20 538.1 714.2)" />
<path class="w1" d="M732.2,324.0 C733.1,320.3 732.3,319.0 738.9,316.5 C745.5,314.0 762.4,310.0 771.9,309.0 C781.4,308.0 788.4,308.5 795.9,310.5 C803.4,312.5 811.8,316.5 816.8,321.0 C821.8,325.5 823.5,330.9 825.8,337.4 C828.0,343.9 823.4,337.8 830.3,359.9 C837.2,382.0 855.4,430.4 867.3,470.0 C879.2,509.6 899.0,565.1 901.7,597.3 C904.5,629.5 898.3,652.1 883.8,663.1 C869.3,674.1 830.6,670.3 814.9,663.1 C799.2,655.9 797.6,638.8 789.4,619.8 C781.2,600.8 773.2,574.4 765.5,549.4 C757.8,524.4 745.7,497.6 743.0,470.0 C740.3,442.4 750.9,405.8 749.4,383.9 C747.9,362.0 736.6,348.9 733.7,338.9 C730.8,328.9 731.3,327.7 732.2,324.0Z" style="stroke:none"/>
<path class="k" d="M733.7,344.9 C733.4,342.4 732.0,333.5 731.8,330.0 C731.5,326.5 731.0,326.2 732.2,324.0 C733.4,321.8 732.3,318.9 738.9,316.5 C745.5,314.1 762.4,310.2 771.9,309.3 C781.4,308.4 788.4,308.9 795.9,310.8 C803.4,312.8 811.9,316.6 816.8,321.0 C821.7,325.4 823.1,331.4 825.1,337.4 C827.1,343.4 827.9,353.6 828.5,356.9" style="stroke-width:2.8"/>
<path class="k1" d="M737.4,344.9 C737.0,342.2 734.7,332.6 735.2,328.5 C735.7,324.4 734.3,322.8 740.4,320.2 C746.5,317.6 762.9,314.2 771.9,313.2 C780.9,312.2 787.7,312.6 794.4,314.2 C801.1,315.8 808.1,318.9 812.3,322.5 C816.5,326.1 818.5,333.7 819.8,335.9" />
<path class="k1" d="M737.4,334.4 C741.1,333.4 753.6,329.7 759.9,328.5 C766.1,327.3 772.4,327.2 774.9,327.0" />
<path class="k" d="M774.9,317.7 C774.9,319.8 774.4,326.7 774.9,330.0 C775.4,333.3 772.9,335.2 777.9,337.4 C782.9,339.6 799.3,339.1 804.8,343.4 C810.3,347.6 809.8,359.6 810.8,362.9" />
<path class="k1" d="M779.4,318.0 C779.5,319.5 775.9,324.6 780.1,327.0 C784.3,329.4 798.7,329.7 804.8,332.2 C810.9,334.7 814.8,340.3 816.8,341.9" />
<path class="k1" d="M783.9,319.5 C787.4,320.4 799.1,322.2 804.8,324.7 C810.5,327.2 816.0,332.8 818.3,334.4" />
<path class="k" d="M733.7,337.4 L749.4,383.9" />
<path class="k1" d="M744.9,327.0 L759.9,370.4" />
<path class="k1" d="M750.9,325.5 L765.9,365.9" />
<path class="k" d="M819.8,335.9 C820.5,338.1 824.5,344.6 824.3,349.4 C824.0,354.1 821.5,360.1 818.3,364.4 C815.0,368.6 808.0,371.6 804.8,374.9 C801.5,378.1 799.8,382.4 798.8,383.9" />
<path class="k1" d="M828.5,356.9 C827.8,359.4 826.0,367.4 824.3,371.9 C822.6,376.4 819.3,381.9 818.3,383.9" />
<path class="k" d="M830.3,359.9 C836.5,378.2 856.3,434.4 867.3,470.0 C878.3,505.6 891.6,556.1 896.5,573.3" />
<path class="k" d="M797.3,383.9 C801.6,398.2 808.7,423.5 823.1,470.0 C837.5,516.5 873.7,630.9 883.8,663.1" style="stroke-width:2.8"/>
<path class="k1" d="M804.8,383.9 C808.7,398.2 814.2,423.5 828.4,470.0 C842.6,516.5 879.6,630.9 889.8,663.1" />
<path class="k1" d="M810.8,374.9 C815.0,390.8 825.7,436.7 835.9,470.0 C846.1,503.3 865.8,557.3 871.8,574.8" />
<path class="k" d="M818.3,380.9 C822.7,395.8 835.4,439.2 844.8,470.0 C854.2,500.8 868.5,546.9 874.8,565.9 C881.0,584.9 877.8,578.6 882.3,583.8 C886.8,589.0 898.5,595.0 901.7,597.3" />
<path class="k" d="M831.0,373.4 C835.7,389.5 849.7,438.9 859.1,470.0 C868.5,501.1 882.8,544.9 887.5,559.9" style="stroke-width:5.2;stroke-linecap:butt"/>
<path class="k1" d="M731.6,437.7 C733.5,443.1 737.4,451.4 743.0,470.0 C748.6,488.6 761.8,536.2 765.5,549.4" />
<path class="w1" d="M725.1,417.2 C712.4,419.7 728.5,428.4 731.6,432.1 C734.7,435.8 739.1,436.4 743.7,439.5 C748.4,442.6 752.8,449.3 759.5,450.7 C766.2,452.1 774.9,450.2 783.7,447.9 C792.6,445.6 808.6,441.8 812.6,436.7 C816.6,431.6 822.5,420.4 807.9,417.2 C793.3,413.9 737.8,414.7 725.1,417.2Z" style="stroke:none"/>
<path class="k" d="M732.6,437.7 C734.5,438.9 739.2,442.9 743.7,445.1 C748.2,447.3 752.8,450.2 759.5,450.7 C766.2,451.2 774.9,450.2 783.7,447.9 C792.6,445.6 807.8,438.6 812.6,436.7" />
<path class="k1" d="M727.9,426.5 C729.1,428.4 730.3,434.6 735.3,437.7 C740.3,440.8 749.3,444.5 757.7,445.1 C766.1,445.7 776.8,443.6 785.6,441.4 C794.4,439.2 806.5,433.7 810.7,432.1" />
<path class="k" d="M725.1,417.2 C726.2,419.7 726.5,428.4 731.6,432.1 C736.7,435.8 747.1,438.9 755.8,439.5 C764.5,440.1 775.0,438.0 783.7,435.8 C792.4,433.6 803.9,428.1 807.9,426.5" />
<ellipse class="w" cx="765.1" cy="410.2" rx="41.5" ry="24" transform="rotate(-17 765.1 410.2)" />
<path class="w" d="M746.5,398.6 C746.8,400.6 746.2,407.0 748.4,410.7 C750.6,414.4 754.2,419.2 759.5,420.9 C764.8,422.6 774.1,422.6 780.0,420.9 C785.9,419.2 792.1,413.8 794.9,410.7 C797.7,407.6 796.4,403.7 796.7,402.3" />
<ellipse class="w" cx="770.7" cy="400.8" rx="25" ry="13.5" transform="rotate(-17 770.7 400.8)" />
<path class="k1" d="M752.1,397.7 C752.7,399.1 752.7,404.3 755.8,406.0 C758.9,407.7 766.1,408.5 770.7,407.9 C775.4,407.3 780.6,404.6 783.7,402.3 C786.8,400.0 788.4,395.4 789.3,394.0" />
<path class="k1" d="M766.5,414.4 L767.9,420.0 L780.0,422.8 L779.1,417.7" />
<path class="k1" d="M767.9,417.2 L779.1,419.5" />
<path class="w" d="M755.8,381.9 C756.4,383.0 757.6,387.0 759.5,388.4 C761.4,389.8 764.5,390.7 767.0,390.2 C769.5,389.7 772.7,384.7 774.4,385.6 C776.1,386.5 775.7,393.8 777.2,395.8 C778.8,397.8 781.7,398.5 783.7,397.7 C785.7,396.9 788.5,394.1 789.3,391.2 C790.1,388.2 788.5,381.9 788.4,380.0" />
<ellipse class="w" cx="773.4" cy="371.9" rx="17" ry="9.5" transform="rotate(-12 773.4 371.9)" />
<path class="k1" d="M764.4,377.9 L767.4,386.9 L773.4,383.9 L777.9,395.9 L783.9,391.4" />
<path class="k" d="M748.4,450.7 C749.5,453.9 748.2,449.5 755.0,470.0 C761.8,490.5 783.7,556.3 789.4,573.6" style="stroke-width:2.6"/>
<path class="k1" d="M751.0,451.6 C752.5,454.7 752.8,449.7 759.8,470.0 C766.8,490.3 787.2,556.1 792.7,573.3" />
<path class="k" d="M765.5,549.4 L789.7,632.5" style="stroke-width:3.4"/>
<path class="k" d="M789.4,573.6 C791.1,574.2 796.1,576.7 799.9,577.2 C803.6,577.7 807.9,577.2 811.9,576.6 C815.9,576.0 819.4,575.0 823.9,573.3 C828.4,571.6 834.3,568.8 838.8,566.6 C843.3,564.4 848.8,561.0 850.8,559.9" />
<path class="w" d="M799.2,587.6 C799.5,585.0 801.5,581.5 804.4,580.1 C807.3,578.7 813.3,576.5 816.4,579.3 C819.5,582.0 823.6,593.4 823.1,596.6 C822.6,599.9 816.8,598.9 813.4,598.8 C810.0,598.7 805.3,597.7 802.9,595.8 C800.5,593.9 799.0,590.2 799.2,587.6Z" />
<path class="k1" d="M805.1,583.8 C804.9,584.7 803.1,587.4 803.7,589.1 C804.3,590.9 806.5,593.3 808.9,594.3 C811.3,595.3 816.4,595.0 817.9,595.1" />
<path class="w" d="M811.1,623.5 C811.4,620.9 813.5,617.4 816.4,616.0 C819.3,614.6 825.3,612.5 828.4,615.3 C831.5,618.0 835.6,629.3 835.1,632.5 C834.6,635.7 828.8,634.8 825.4,634.7 C822.0,634.6 817.3,633.6 814.9,631.7 C812.5,629.8 810.9,626.1 811.1,623.5Z" />
<path class="k1" d="M817.1,619.8 C816.9,620.7 815.0,623.2 815.6,625.0 C816.2,626.8 818.5,629.3 820.9,630.3 C823.3,631.3 828.4,630.9 829.9,631.0" />
<path class="k" d="M789.4,619.8 L814.9,663.1" />
<path class="k1" d="M791.7,617.5 L805.9,642.2 L810.4,646.7" />
<path class="k" d="M810.4,646.7 C813.6,647.1 822.7,648.1 829.9,649.0 C837.1,649.9 846.3,651.1 853.8,652.0 C861.3,652.9 870.3,652.6 874.8,654.5 C879.3,656.4 879.8,661.7 880.8,663.1" />
<path class="k" d="M785.9,620.0 L800.8,657.4 L824.8,691.9 L848.8,693.7" style="stroke-width:2.6"/>
<path class="k" d="M793.3,620.0 L811.3,647.0 L824.8,690.4" />
<path class="k1" d="M801.6,659.2 L815.8,664.9" />
<path class="k1" d="M802.8,666.7 L817.0,672.4" />
<path class="k1" d="M804.0,674.2 L818.2,679.9" />
<path class="k1" d="M805.2,681.7 L819.4,687.4" />
<path class="k1" d="M811.3,647.0 C816.0,647.9 831.3,650.8 839.8,652.2 C848.3,653.6 855.7,654.3 862.2,655.2 C868.7,656.1 876.0,657.0 878.7,657.4" />
<path class="k" d="M824.8,683.7 C828.5,683.5 840.3,683.3 847.3,682.2 C854.3,681.1 860.5,679.0 866.7,676.9 C872.9,674.8 881.7,670.6 884.7,669.4" />
<path class="k1" d="M827.8,691.9 C831.8,691.9 844.7,692.6 851.7,691.9 C858.7,691.1 863.7,689.4 869.7,687.4 C875.7,685.4 884.7,681.1 887.7,679.9" />
<path class="k1" d="M847.3,694.1 L851.0,709.9 L857.7,713.6" />
<path class="k1" d="M856.2,694.9 L860.7,713.6" />
<path class="k1" d="M863.7,694.9 L866.0,712.9" />
<path class="k" d="M868.2,620.0 L890.7,709.9" style="stroke-width:2.8"/>
<path class="k1" d="M874.2,620.0 L896.7,709.9" />
<path class="k" d="M881.7,620.0 L901.2,676.9 L910.2,709.9" />
<path class="k" d="M889.2,620.0 C891.0,625.0 897.0,641.3 899.7,650.0 C902.5,658.7 903.2,667.9 905.7,672.4 C908.2,676.9 912.5,679.4 914.7,676.9 C916.9,674.4 918.0,662.1 919.1,657.4 C920.2,652.7 921.0,650.0 921.4,648.5" />
<path class="k1" d="M899.7,685.9 L911.7,679.9 L910.2,708.4" />
<path class="k" d="M892.2,690.4 L910.2,708.4" style="stroke-width:3"/>
<path class="k1" d="M917.6,669.4 C920.1,668.9 929.1,667.4 932.6,666.4 C936.1,665.4 937.6,663.9 938.6,663.4" />
<path class="k" d="M935.6,658.9 C936.9,662.4 941.6,673.4 943.1,679.9 C944.6,686.4 944.4,694.9 944.6,697.9" />
<path class="k" d="M901.7,597.3 L903.5,594.3 L945.9,588.6" />
<path class="k1" d="M909.2,604.8 L924.5,596.7 L956.0,619.8 L933.5,623.1" />
<path class="k1" d="M904.7,603.3 L919.7,621.3 L909.2,604.8" />
<path class="k" d="M906.2,607.8 L918.2,634.7 L921.2,652.7" />
<ellipse class="k1" cx="948.2" cy="607.0" rx="6.5" ry="3.6" transform="rotate(-5 948.2 607.0)" />
<ellipse class="k1" cx="948.2" cy="607.0" rx="3.6" ry="2" transform="rotate(-5 948.2 607.0)" />
<path class="k" d="M931.7,625.8 L994.6,619.8 L940.7,653.5" />
<path class="k1" d="M933.5,623.1 L993.1,617.5" />
<ellipse class="w" cx="933.2" cy="640.7" rx="11.5" ry="13" transform="rotate(20 933.2 640.7)" />
<ellipse class="k1" cx="933.2" cy="640.7" rx="5.2" ry="6" transform="rotate(20 933.2 640.7)" />
<path class="k1" d="M922.0,631.7 C921.4,633.5 918.1,638.5 918.2,642.2 C918.3,646.0 922.0,652.2 922.7,654.2" />
<path class="k" d="M934.7,655.7 L939.2,663.1" />
<path class="k" d="M948.2,649.7 L955.7,663.1" />
<path class="w1" d="M973.4,540.4 L1096.2,521.7 L1121.7,532.9 L1121.7,567.3 L1074.5,574.8 L1049.8,589.8 L995.9,619.8 L983.9,616.8 L983.9,574.8Z" style="stroke:none"/>
<path class="k" d="M973.4,540.4 L1096.2,521.7" />
<path class="k1" d="M1000.3,557.2 L1109.7,540.4" />
<path class="k" d="M999.1,567.3 L1109.7,551.6" style="stroke-width:2.8"/>
<path class="k1" d="M1013.8,567.6 L1108.2,554.2" />
<path class="k" d="M973.4,540.4 C975.4,541.0 981.6,541.9 985.4,544.1 C989.1,546.4 993.5,550.3 995.9,553.9 C998.3,557.5 1000.0,561.9 1000.0,565.9 C1000.0,569.9 997.8,574.1 995.9,577.8 C994.0,581.5 989.6,586.5 988.4,588.3" />
<path class="k" d="M1013.8,567.6 C1012.4,569.2 1007.5,572.2 1005.6,577.1 C1003.7,582.0 1003.4,590.6 1002.6,597.3 C1001.8,604.0 1000.9,614.1 1000.6,617.5" />
<path class="k" d="M989.9,597.3 L1049.8,589.8" />
<path class="k1" d="M991.4,600.3 L1043.8,593.6" />
<path class="k" d="M1109.7,551.6 L1115.7,553.9 L1115.7,568.8 L1074.5,574.8" />
<path class="k1" d="M1109.7,553.9 L1111.2,567.3" />
<path class="k" d="M1096.2,521.7 C1098.5,523.1 1106.2,525.5 1109.7,529.9 C1113.2,534.3 1116.2,541.9 1117.2,547.9 C1118.2,553.9 1116.0,562.9 1115.7,565.9" />
<path class="k" d="M1103.7,520.6 C1106.0,522.1 1113.9,525.4 1117.2,529.9 C1120.5,534.4 1122.8,541.7 1123.5,547.9 C1124.2,554.1 1122.0,564.1 1121.7,567.3" />
<path class="k" d="M995.9,619.8 L1049.8,589.8" />
<path class="k1" d="M1001.8,617.5 L1048.3,592.8" />
<path class="k1" d="M900.0,597.3 L944.9,589.8" />
<ellipse class="w" cx="971.6" cy="565.9" rx="17" ry="21" transform="rotate(25 971.6 565.9)" />
<ellipse class="k" cx="971.6" cy="565.9" rx="13" ry="17" transform="rotate(25 971.6 565.9)" />
<ellipse class="k" cx="971.6" cy="565.9" rx="9.5" ry="12.5" transform="rotate(25 971.6 565.9)" />
<ellipse class="k1" cx="971.6" cy="565.9" rx="6" ry="8.2" transform="rotate(25 971.6 565.9)" />
<ellipse class="k1" cx="971.6" cy="565.9" rx="2.8" ry="4" transform="rotate(25 971.6 565.9)" />
<path class="w1" d="M946.4,568.1 L955.4,565.9 L955.4,589.8 L944.9,588.3Z" />
<ellipse class="k1" cx="950.2" cy="581.6" rx="2.8" ry="4.6" />
<path class="w1" d="M977.9,589.8 L988.4,594.3 L986.9,615.3 L976.4,610.8Z" />
<ellipse class="k1" cx="982.1" cy="604.8" rx="2.8" ry="4.8" />
<path class="k" d="M956.9,586.8 C957.4,588.8 957.6,595.3 959.9,598.8 C962.1,602.3 966.9,605.3 970.4,607.8 C973.9,610.3 979.1,612.8 980.9,613.8" />
<path class="w1" d="M288.2,706.5 C288.2,676.8 304.6,701.3 308.4,697.9 C312.2,694.5 281.4,688.2 311.2,686.3 C341.0,684.4 454.4,677.2 487.1,686.3 C519.8,695.4 503.0,721.4 507.3,741.1 C511.6,760.8 513.6,786.2 513.1,804.5 C512.6,822.8 511.6,842.0 504.4,850.7 C497.2,859.5 502.5,852.8 469.8,857.0 C437.1,861.2 338.7,901.2 308.4,876.1 C278.1,851.0 288.2,736.2 288.2,706.5Z" style="stroke:none"/>
<path class="k" d="M308.4,875.5 L469.8,857.0" />
<path class="k" d="M469.8,857.0 C472.2,856.3 480.4,854.4 484.2,853.0 C488.0,851.6 491.0,849.5 492.9,848.4 C494.8,847.3 495.3,846.9 495.8,846.6" />
<path class="k" d="M308.3,675.6 L296.6,698.4 L280.0,705.8" />
<path class="k1" d="M316.2,688.1 L306.3,707.4 L284.1,713.0" />
<path class="k1" d="M325.6,699.1 L316.2,715.0 L292.4,719.9" />
<path class="k1" d="M330.5,705.3 L322.9,718.5 L300.7,724.0" />
<path class="k1" d="M296.6,698.4 L322.9,718.5" />
<path class="k1" d="M288.3,701.9 L309.7,722.9" />
<path class="k" d="M320.1,713.6 C322.6,715.6 330.0,720.9 335.3,725.4 C340.6,729.9 345.0,733.8 351.9,740.6 C358.8,747.4 368.5,758.6 376.8,766.2 C385.1,773.8 394.8,781.8 401.7,786.2 C408.6,790.7 414.1,791.8 418.3,792.9 C422.5,794.0 423.2,794.0 426.6,793.1 C430.1,792.2 433.9,791.7 439.0,787.6 C444.1,783.5 451.2,776.1 457.0,768.3 C462.8,760.5 469.2,748.9 473.6,740.6 C478.0,732.3 480.9,725.0 483.2,718.5 C485.5,712.0 486.9,706.5 487.4,701.9 C487.9,697.3 486.5,692.6 486.3,690.8" />
<path class="k1" d="M322.9,718.5 C325.4,720.6 332.8,726.1 338.1,730.9 C343.4,735.7 348.2,741.0 354.7,747.5 C361.1,754.0 369.4,762.9 376.8,769.6 C384.2,776.3 395.2,784.6 398.9,787.6" />
<path class="k1" d="M487.4,695.0 C487.8,697.1 490.1,703.0 490.1,707.4 C490.1,711.8 489.2,715.7 487.4,721.2 C485.6,726.7 483.0,733.2 479.1,740.6 C475.2,748.0 469.4,758.1 463.9,765.5 C458.4,772.9 448.9,781.6 445.9,784.8" />
<path class="k" d="M490.9,698.9 C492.9,702.4 499.4,711.4 502.9,719.9 C506.4,728.4 509.9,739.9 511.9,749.9 C513.9,759.9 515.4,769.1 514.9,779.8 C514.4,790.5 511.4,804.6 508.9,814.3 C506.4,824.0 503.1,831.7 499.9,838.2 C496.6,844.7 491.1,850.6 489.4,853.1" />
<path class="k1" d="M493.9,697.4 C496.1,701.1 503.4,711.1 507.4,719.9 C511.4,728.6 515.5,739.9 517.9,749.9 C520.3,759.9 522.0,768.8 521.6,779.8 C521.2,790.8 518.2,805.8 515.6,815.8 C513.0,825.8 509.0,833.5 505.9,839.7 C502.8,845.9 498.4,850.9 496.9,853.1" />
<path class="k" d="M499.9,692.2 C502.4,696.8 510.9,710.3 514.9,719.9 C518.9,729.5 521.9,739.9 523.9,749.9 C525.9,759.9 527.4,768.8 526.9,779.8 C526.4,790.8 523.6,805.6 520.9,815.8 C518.1,826.0 512.1,837.0 510.4,841.2" />
<ellipse class="b" cx="396.4" cy="683.8" rx="88" ry="39.1" transform="rotate(7.3 396.4 683.8)" />
<ellipse class="k1" cx="396.4" cy="685.0" rx="88.6" ry="39.4" transform="rotate(7.3 396.4 685.0)" />
<ellipse class="b" cx="396.4" cy="679.4" rx="88" ry="39.1" transform="rotate(7.3 396.4 679.4)" />
<ellipse class="w1" cx="396.7" cy="680.6" rx="74" ry="28.6" transform="rotate(7.3 396.7 680.6)" />
<ellipse class="w" cx="396.9" cy="680.8" rx="64" ry="22.8" transform="rotate(7.3 396.9 680.8)" style="stroke-width:3"/>
<path d="M323.3,650.3 l0,-1.6 M325.9,648.9 l0,-1.6 M328.7,647.6 l0,-1.6 M331.7,646.3 l0,-1.6 M334.9,645.1 l0,-1.6 M338.2,644.1 l0,-1.6 M341.7,643.1 l0,-1.6 M345.3,642.2 l0,-1.6 M349.1,641.5 l0,-1.6 M353.0,640.8 l0,-1.6 M357.1,640.2 l0,-1.6 M361.2,639.8 l0,-1.6 M365.4,639.4 l0,-1.6 M369.8,639.2 l0,-1.6 M374.2,639.1 l0,-1.6 M378.6,639.0 l0,-1.6 M383.1,639.1 l0,-1.6 M387.7,639.3 l0,-1.6 M392.2,639.7 l0,-1.6 M396.8,640.1 l0,-1.6 M401.4,640.6 l0,-1.6 M405.9,641.3 l0,-1.6 M410.5,642.0 l0,-1.6 M415.0,642.8 l0,-1.6 M419.4,643.8 l0,-1.6 M423.8,644.8 l0,-1.6 M428.1,646.0 l0,-1.6 M432.3,647.2 l0,-1.6 M436.4,648.5 l0,-1.6 M440.5,649.9 l0,-1.6 M444.3,651.4 l0,-1.6 M448.1,653.0 l0,-1.6 M451.7,654.6 l0,-1.6 M455.2,656.3 l0,-1.6 M458.5,658.1 l0,-1.6 M461.6,659.9 l0,-1.6 M464.6,661.8 l0,-1.6 M467.4,663.7 l0,-1.6 M469.9,665.7 l0,-1.6 M472.3,667.7 l0,-1.6 M474.5,669.7 l0,-1.6 M476.4,671.8 l0,-1.6 M478.2,673.8 l0,-1.6 M479.7,675.9 l0,-1.6" stroke="#1a1a18" stroke-width="1.2" fill="none"/>
<path class="k1" d="M479.8,701.3 L478.1,703.7 L475.9,705.9 L473.5,708.0 L470.6,710.0 L467.4,711.9 L463.9,713.7 L460.1,715.3 L456.0,716.7 L451.6,718.0 L446.9,719.2 L442.0,720.1 L436.9,720.9 L431.6,721.5 L426.2,721.9 L420.6,722.2 L414.9,722.3 L409.1,722.1 L403.3,721.8 L397.4,721.4 L391.5,720.7 L385.7,719.8 L379.9,718.8 L374.1,717.7 L368.5,716.3 L363.0,714.8 L357.7,713.2 L352.5,711.4 L347.5,709.5 L342.8,707.4 L338.3,705.2 L334.1,703.0 L330.2,700.6 L326.5,698.2 L323.2,695.7 L320.3,693.1 L317.7,690.4 L315.4,687.8 L313.6,685.1 L312.1,682.4 L311.0,679.7" style="stroke:#fff;stroke-width:1.1;stroke-dasharray:1.2 2.2;stroke-linecap:butt"/>
<path class="w" d="M349.1,662.9 C350.2,661.0 361.8,659.2 369.9,658.3 C378.0,657.4 388.3,657.0 397.5,657.7 C406.7,658.4 418.1,660.3 425.2,662.5 C432.3,664.7 439.2,668.9 440.4,670.8 C441.5,672.7 438.8,673.6 432.1,674.0 C425.4,674.4 411.8,673.8 400.3,673.1 C388.8,672.4 371.5,671.5 363.0,669.8 C354.5,668.1 348.0,664.8 349.1,662.9Z" style="stroke-width:2.4"/>
<path class="w" d="M338.1,671.5 C340.0,669.0 346.8,669.2 351.9,669.0 C357.0,668.8 362.3,668.8 368.5,670.4 C374.7,672.0 384.8,675.2 389.2,678.4 C393.6,681.6 394.3,685.4 395.0,689.4 C395.7,693.4 396.4,700.5 393.4,702.6 C390.4,704.7 382.8,703.2 376.8,701.9 C370.8,700.6 363.4,698.0 357.4,695.0 C351.4,692.0 344.0,687.8 340.8,683.9 C337.6,680.0 336.2,674.0 338.1,671.5Z" style="stroke-width:2.6"/>
<path class="w" d="M405.1,677.7 C407.9,675.1 412.7,675.4 418.3,674.9 C423.9,674.4 433.0,674.4 439.0,674.9 C445.0,675.4 451.3,676.0 454.5,677.7 C457.7,679.4 459.5,682.0 458.3,685.3 C457.1,688.6 453.5,694.3 447.3,697.7 C441.1,701.1 428.0,704.6 421.0,705.8 C414.0,707.0 408.4,707.2 405.1,704.7 C401.8,702.2 401.4,695.3 401.4,690.8 C401.4,686.3 402.3,680.4 405.1,677.7Z" style="stroke-width:2.6"/>
<path class="k1" d="M395.4,695.0 L401.7,695.0" />
<ellipse class="w1" cx="367.1" cy="682.8" rx="17.5" ry="8.2" transform="rotate(9 367.1 682.8)" />
<path d="M350.2,678.2 L356.4,683.0 M352.8,678.2 L360.6,684.2 M355.8,678.3 L364.6,685.1 M358.9,678.6 L368.3,686.0 M362.3,679.1 L371.9,686.5 M365.9,679.7 L375.3,687.1 M369.6,680.5 L378.4,687.3 M373.6,681.5 L381.4,687.5 M377.8,682.6 L384.0,687.4" stroke="#1a1a18" stroke-width="1.5" fill="none"/>
<path class="k" d="M413.4,681.8 L437.6,695.0" style="stroke-width:4.5"/>
<path class="k" d="M428.6,694.3 L432.8,697.7" style="stroke-width:2"/>
<path class="k" d="M385.1,665.7 L401.7,666.2" style="stroke-width:3"/>
<path class="k" d="M389.2,661.1 L400.3,669.4" style="stroke-width:2.2"/>
<g transform="translate(432.9,811.8) rotate(-8.9)"><rect x="-52" y="-12.5" width="104" height="25" rx="12.5" fill="#fff" stroke="#1a1a18" stroke-width="3"/><text x="-42" y="6.6" font-family="Liberation Sans, sans-serif" font-weight="bold" font-style="italic" font-size="18.5" textLength="52" lengthAdjust="spacingAndGlyphs" fill="#fff" stroke="#1a1a18" stroke-width="2.6" paint-order="stroke" stroke-linejoin="round">TALION</text><text x="13.5" y="6" font-family="Liberation Sans, sans-serif" font-weight="bold" font-style="italic" font-size="15.5" textLength="31" lengthAdjust="spacingAndGlyphs" fill="#1a1a18" stroke="#1a1a18" stroke-width="1.3">XQ38</text></g>
<ellipse class="w1" cx="295.0" cy="791.3" rx="37" ry="86.6" transform="rotate(-10 295.0 791.3)" />
<path class="k" d="M297.6,713.0 L300.4,715.6 L303.2,718.7 L305.9,722.1 L308.6,725.9 L311.1,730.0 L313.6,734.4 L316.0,739.1 L318.3,744.1 L320.4,749.3 L322.4,754.7 L324.3,760.4 L326.0,766.1 L327.5,772.0 L328.9,778.1 L330.1,784.1 L331.1,790.2 L331.9,796.4 L332.5,802.5 L333.0,808.5 L333.2,814.4 L333.2,820.3 L333.0,825.9 L332.6,831.4 L332.1,836.7 L331.3,841.8 L330.3,846.6 L329.1,851.1 L327.8,855.3 L326.3,859.2 L324.6,862.8 L322.8,866.0 L320.8,868.7 L318.7,871.1 L316.4,873.1 L314.1,874.7 L311.6,875.8 L309.0,876.5 L306.4,876.8 L303.7,876.7 L300.9,876.1" style="stroke-width:3.8;stroke-linecap:butt"/>
<path class="b" d="M263.2,708.9 L266.2,707.8 L269.3,707.3 L272.5,707.4 L275.7,708.1 L279.0,709.5 L282.4,711.4 L285.7,713.9 L289.0,717.0 L292.3,720.7 L295.5,724.8 L298.6,729.5 L301.6,734.6 L304.5,740.1 L307.2,746.0 L309.7,752.3 L312.0,758.8 L314.2,765.6 L316.1,772.6 L317.7,779.7 L319.1,787.0 L320.3,794.3 L321.2,801.5 L321.8,808.8 L322.1,815.9 L322.1,822.8 L321.9,829.6 L321.4,836.0 L320.6,842.2 L319.5,848.0 L318.2,853.5 L316.6,858.5 L314.8,863.0 L312.7,867.0 L310.4,870.5 L308.0,873.5 L305.3,875.9 L302.5,877.7 L299.5,878.9 L296.5,879.5 L293.3,879.4 L262.6,882.8 L265.8,882.9 L268.8,882.3 L271.8,881.1 L274.6,879.3 L277.3,876.9 L279.7,873.9 L282.0,870.4 L284.1,866.4 L285.9,861.9 L287.5,856.9 L288.8,851.4 L289.9,845.6 L290.7,839.4 L291.2,833.0 L291.4,826.2 L291.4,819.3 L291.1,812.2 L290.5,804.9 L289.6,797.7 L288.4,790.4 L287.0,783.1 L285.4,776.0 L283.5,769.0 L281.3,762.2 L279.0,755.7 L276.5,749.4 L273.8,743.5 L270.9,738.0 L267.9,732.9 L264.8,728.2 L261.6,724.1 L258.3,720.4 L255.0,717.3 L251.7,714.8 L248.3,712.9 L245.0,711.5 L241.8,710.8 L238.6,710.7 L235.5,711.2 L232.5,712.3Z" style="stroke:#1a1a18;stroke-width:1.5"/>
<ellipse class="w" cx="252.0" cy="796.8" rx="37" ry="87.2" transform="rotate(-10 252.0 796.8)" />
<path d="M268.7,720.5 L283.4,717.9 M270.1,722.0 L284.8,719.4 M271.4,723.7 L286.1,721.1 M272.7,725.4 L287.4,722.8 M274.0,727.2 L288.7,724.6 M275.3,729.1 L290.0,726.5 M276.6,731.0 L291.3,728.4 M277.8,733.1 L292.5,730.5 M279.1,735.2 L293.8,732.6 M280.3,737.4 L295.0,734.8 M281.5,739.6 L296.2,737.0 M282.6,742.0 L297.3,739.4 M283.8,744.3 L298.5,741.7 M284.9,746.8 L299.6,744.2 M286.0,749.3 L300.7,746.7 M287.0,751.9 L301.7,749.3 M288.0,754.5 L302.7,751.9 M289.0,757.2 L303.7,754.6 M290.0,759.9 L304.7,757.3 M290.9,762.7 L305.6,760.1 M291.8,765.5 L306.5,762.9 M292.6,768.3 L307.3,765.7 M293.4,771.2 L308.1,768.6 M294.2,774.1 L308.9,771.5 M294.9,777.0 L309.6,774.4 M300.3,818.6 L315.0,816.0 M300.4,821.5 L315.1,818.9 M300.3,824.4 L315.0,821.8 M300.3,827.2 L315.0,824.6 M300.2,829.9 L314.9,827.3 M300.0,832.7 L314.7,830.1 M299.8,835.4 L314.5,832.8 M299.6,838.0 L314.3,835.4 M299.3,840.6 L314.0,838.0 M298.9,843.1 L313.6,840.5 M298.5,845.6 L313.2,843.0 M298.1,848.0 L312.8,845.4 M297.6,850.3 L312.3,847.7 M297.1,852.6 L311.8,850.0 M296.5,854.8 L311.2,852.2 M295.9,857.0 L310.6,854.4 M295.3,859.0 L310.0,856.4 M294.6,861.0 L309.3,858.4 M293.8,862.9 L308.5,860.3" stroke="#6a6a68" stroke-width="0.6" fill="none"/>
<ellipse class="w" cx="245.1" cy="798.0" rx="37" ry="86.0" transform="rotate(-10 245.1 798.0)" />
<ellipse class="w1" cx="240.2" cy="798.8" rx="36.5" ry="85.0" transform="rotate(-10 240.2 798.8)" />
<ellipse class="w" cx="251.8" cy="796.3" rx="35" ry="83" transform="rotate(-10 251.8 796.3)" />
<ellipse class="w" cx="242.9" cy="797.8" rx="35.5" ry="84.5" transform="rotate(-10 242.9 797.8)" />
<ellipse class="w" cx="235.2" cy="799.1" rx="32" ry="75.5" transform="rotate(-10 235.2 799.1)" />
<ellipse class="w1" cx="229.3" cy="800.2" rx="33.5" ry="79.5" transform="rotate(-10 229.3 800.2)" />
<ellipse class="w" cx="223.4" cy="801.2" rx="36.5" ry="86" transform="rotate(-10 223.4 801.2)" />
<ellipse class="w" cx="215.0" cy="802.6" rx="36.5" ry="86" transform="rotate(-10 215.0 802.6)" />
<ellipse class="w" cx="206.8" cy="804.0" rx="32" ry="75.5" transform="rotate(-10 206.8 804.0)" />
<ellipse class="w1" cx="200.9" cy="805.1" rx="33.5" ry="79.5" transform="rotate(-10 200.9 805.1)" />
<ellipse class="w" cx="195.0" cy="806.1" rx="36.5" ry="86" transform="rotate(-10 195.0 806.1)" />
<ellipse class="w" cx="186.6" cy="807.5" rx="36.5" ry="86" transform="rotate(-10 186.6 807.5)" />
<ellipse class="w" cx="178.4" cy="808.9" rx="32" ry="75.5" transform="rotate(-10 178.4 808.9)" />
<ellipse class="w1" cx="172.5" cy="810.0" rx="33.5" ry="79.5" transform="rotate(-10 172.5 810.0)" />
<ellipse class="w" cx="166.6" cy="811.0" rx="36.5" ry="86" transform="rotate(-10 166.6 811.0)" />
<ellipse class="w" cx="158.2" cy="812.4" rx="36.5" ry="86" transform="rotate(-10 158.2 812.4)" />
<ellipse class="w1" cx="225.5" cy="723.3" rx="2.2" ry="1.5" transform="rotate(-20 225.5 723.3)" />
<ellipse class="w1" cx="262" cy="838" rx="1.7" ry="2.3" />
<ellipse class="w" cx="98.3" cy="821.9" rx="64.3" ry="118.9" transform="rotate(-8 98.3 821.9)" />
<ellipse class="k1" cx="98.6" cy="821.9" rx="61.4" ry="116.0" transform="rotate(-8 98.6 821.9)" />
<clipPath id="cupclip"><ellipse cx="98.6" cy="821.9" rx="60.6" ry="115.2" transform="rotate(-8 98.6 821.9)"/></clipPath>
<g clip-path="url(#cupclip)"><ellipse class="k" cx="142.4" cy="815.5" rx="37.5" ry="69.5" transform="rotate(-10 142.4 815.5)" /><ellipse class="k1" cx="152.9" cy="815.5" rx="36.8" ry="69.0" transform="rotate(-10 152.9 815.5)" /><ellipse class="k" cx="165.9" cy="813.5" rx="35.8" ry="70.0" transform="rotate(-10 165.9 813.5)" /><ellipse class="k1" cx="179.4" cy="812" rx="35.5" ry="70.0" transform="rotate(-10 179.4 812)" /></g>

</g>
<g id="icons">
<path d="M533.1,643.7 C533.1,643.0 543.4,639.1 546.8,638.1 C550.2,637.1 558.3,635.3 562.1,635.4 C565.9,635.5 575.2,637.1 579.2,638.6 C583.2,640.1 592.2,644.9 596.2,648.0 C600.2,651.1 609.5,660.7 613.3,665.1 C617.1,669.5 625.4,680.7 628.6,685.5 C631.8,690.3 638.2,701.6 640.6,706.0 C643.0,710.4 646.6,722.0 648.8,723.4 C651.0,724.8 660.5,716.1 659.7,718.3 C658.9,720.5 647.5,740.3 642.3,742.2 C637.0,744.1 616.5,736.2 614.7,735.0 C613.0,733.8 626.7,734.1 627.3,731.9 C627.9,729.7 622.1,720.4 620.1,716.2 C618.1,712.0 612.7,700.5 609.9,695.8 C607.1,691.1 599.8,680.4 596.2,676.1 C592.6,671.8 583.2,662.3 579.2,659.1 C575.2,655.9 565.9,650.6 562.1,648.9 C558.3,647.2 550.2,644.8 546.8,644.2 C543.4,643.6 533.1,644.4 533.1,643.7Z" fill="#009ee2"/>
<path d="M647.4,722.7 L659.7,718.3 L642.3,742.2 L614.7,735.0 L628.6,732.3Z" fill="#009ee2"/>
<path d="M533.5,643.6 L521.2,648.0 L508.4,656.2 L498.1,665.9 L489.1,670.2 L505.8,674.6 L516.9,665.1 L528.3,655.7 L520.5,658.6 L527.1,651.8 L538.2,646.3Z" fill="#0078b4"/>
<rect x="479.9" y="613.6" width="28.3" height="22.8" rx="3.2" fill="none" stroke="#2496d4" stroke-width="4.1"/>
<path d="M484.2,613.6 V610.5 A9.7,9.7 0 0 1 503.6,610.5 V613.6" fill="none" stroke="#2496d4" stroke-width="4.1"/>
<circle cx="493.9" cy="625.5" r="2.7" fill="#2496d4"/>
<rect x="636" y="776.5" width="27.9" height="22.8" rx="3.2" fill="none" stroke="#2496d4" stroke-width="4.1"/>
<path d="M640.3,776.5 V768 A9.5,9.5 0 0 1 659.3,768 V769.5" fill="none" stroke="#2496d4" stroke-width="4.1"/>
<circle cx="650.5" cy="787.9" r="2.7" fill="#2496d4"/>
</g>
<g id="callouts">
<line x1="44.4" y1="253" x2="229" y2="252.7" stroke="#2496d4" stroke-width="4"/>
<circle cx="229" cy="252.7" r="7.3" fill="#2496d4"/>
<circle cx="44.4" cy="253" r="42" fill="#fff" stroke="#2496d4" stroke-width="3.9"/>
<text transform="translate(45.4,268.4) scale(0.655,1)" text-anchor="middle" font-family="Liberation Sans, sans-serif" font-weight="bold" font-size="48.5" fill="#161512" stroke="#161512" stroke-width="0.9">4</text>
<line x1="555.1" y1="252.9" x2="363.4" y2="252.8" stroke="#2496d4" stroke-width="4"/>
<circle cx="363.4" cy="252.8" r="7.3" fill="#2496d4"/>
<circle cx="555.1" cy="252.9" r="42" fill="#fff" stroke="#2496d4" stroke-width="3.9"/>
<text transform="translate(556.1,268.3) scale(0.655,1)" text-anchor="middle" font-family="Liberation Sans, sans-serif" font-weight="bold" font-size="48.5" fill="#161512" stroke="#161512" stroke-width="0.9">5</text>
<line x1="294.5" y1="553.1" x2="294.1" y2="329.8" stroke="#2496d4" stroke-width="4"/>
<circle cx="294.1" cy="329.8" r="7.3" fill="#2496d4"/>
<circle cx="294.5" cy="553.1" r="42" fill="#fff" stroke="#2496d4" stroke-width="3.9"/>
<text transform="translate(295.5,568.5) scale(0.655,1)" text-anchor="middle" font-family="Liberation Sans, sans-serif" font-weight="bold" font-size="48.5" fill="#161512" stroke="#161512" stroke-width="0.9">3</text>
<line x1="655.9" y1="375.6" x2="769.4" y2="372.2" stroke="#2496d4" stroke-width="4"/>
<circle cx="769.4" cy="372.2" r="7.3" fill="#2496d4"/>
<circle cx="655.9" cy="375.6" r="42" fill="#fff" stroke="#2496d4" stroke-width="3.9"/>
<text transform="translate(656.9,391.0) scale(0.655,1)" text-anchor="middle" font-family="Liberation Sans, sans-serif" font-weight="bold" font-size="48.5" fill="#161512" stroke="#161512" stroke-width="0.9">10</text>
<line x1="968" y1="331.3" x2="810" y2="331" stroke="#2496d4" stroke-width="4"/>
<circle cx="810" cy="331" r="7.3" fill="#2496d4"/>
<circle cx="968" cy="331.3" r="42" fill="#fff" stroke="#2496d4" stroke-width="3.9"/>
<text transform="translate(969.0,346.7) scale(0.655,1)" text-anchor="middle" font-family="Liberation Sans, sans-serif" font-weight="bold" font-size="48.5" fill="#161512" stroke="#161512" stroke-width="0.9">11</text>
<line x1="680.7" y1="495.4" x2="800.8" y2="494.8" stroke="#2496d4" stroke-width="4"/>
<circle cx="800.8" cy="494.8" r="7.3" fill="#2496d4"/>
<circle cx="680.7" cy="495.4" r="42" fill="#fff" stroke="#2496d4" stroke-width="3.9"/>
<text transform="translate(681.7,510.79999999999995) scale(0.655,1)" text-anchor="middle" font-family="Liberation Sans, sans-serif" font-weight="bold" font-size="48.5" fill="#161512" stroke="#161512" stroke-width="0.9">9</text>
<line x1="968" y1="441.4" x2="967.8" y2="552.4" stroke="#2496d4" stroke-width="4"/>
<circle cx="967.8" cy="552.4" r="7.3" fill="#2496d4"/>
<circle cx="968" cy="441.4" r="42" fill="#fff" stroke="#2496d4" stroke-width="3.9"/>
<text transform="translate(969.0,456.79999999999995) scale(0.655,1)" text-anchor="middle" font-family="Liberation Sans, sans-serif" font-weight="bold" font-size="48.5" fill="#161512" stroke="#161512" stroke-width="0.9">12</text>
<line x1="1146.9" y1="441.3" x2="1146.4" y2="520.2" stroke="#2496d4" stroke-width="4"/>
<circle cx="1146.4" cy="520.2" r="7.3" fill="#2496d4"/>
<circle cx="1146.9" cy="441.3" r="42" fill="#fff" stroke="#2496d4" stroke-width="3.9"/>
<text transform="translate(1147.9,456.7) scale(0.655,1)" text-anchor="middle" font-family="Liberation Sans, sans-serif" font-weight="bold" font-size="48.5" fill="#161512" stroke="#161512" stroke-width="0.9">13</text>
<line x1="679.4" y1="624.7" x2="679.3" y2="732.1" stroke="#2496d4" stroke-width="4"/>
<circle cx="679.3" cy="732.1" r="7.3" fill="#2496d4"/>
<circle cx="679.4" cy="624.7" r="42" fill="#fff" stroke="#2496d4" stroke-width="3.9"/>
<text transform="translate(680.4,640.1) scale(0.655,1)" text-anchor="middle" font-family="Liberation Sans, sans-serif" font-weight="bold" font-size="48.5" fill="#161512" stroke="#161512" stroke-width="0.9">8</text>
<line x1="1303.9" y1="813.3" x2="1304" y2="643.9" stroke="#2496d4" stroke-width="4"/>
<circle cx="1304" cy="643.9" r="7.3" fill="#2496d4"/>
<circle cx="1303.9" cy="813.3" r="42" fill="#fff" stroke="#2496d4" stroke-width="3.9"/>
<text transform="translate(1304.9,828.6999999999999) scale(0.655,1)" text-anchor="middle" font-family="Liberation Sans, sans-serif" font-weight="bold" font-size="48.5" fill="#161512" stroke="#161512" stroke-width="0.9">14</text>
<line x1="1424.2" y1="813.3" x2="1424.3" y2="929" stroke="#2496d4" stroke-width="4"/>
<circle cx="1424.3" cy="929" r="7.3" fill="#2496d4"/>
<circle cx="1424.2" cy="813.3" r="42" fill="#fff" stroke="#2496d4" stroke-width="3.9"/>
<text transform="translate(1425.2,828.6999999999999) scale(0.655,1)" text-anchor="middle" font-family="Liberation Sans, sans-serif" font-weight="bold" font-size="48.5" fill="#161512" stroke="#161512" stroke-width="0.9">6</text>
<line x1="1199" y1="906.9" x2="1198.2" y2="1014" stroke="#2496d4" stroke-width="4"/>
<circle cx="1198.2" cy="1014" r="7.3" fill="#2496d4"/>
<circle cx="1199" cy="906.9" r="42" fill="#fff" stroke="#2496d4" stroke-width="3.9"/>
<text transform="translate(1200.0,922.3) scale(0.655,1)" text-anchor="middle" font-family="Liberation Sans, sans-serif" font-weight="bold" font-size="48.5" fill="#161512" stroke="#161512" stroke-width="0.9">7</text>
<line x1="818.5" y1="962.1" x2="818.3" y2="1136.5" stroke="#2496d4" stroke-width="4"/>
<circle cx="818.3" cy="1136.5" r="7.3" fill="#2496d4"/>
<circle cx="818.5" cy="962.1" r="42" fill="#fff" stroke="#2496d4" stroke-width="3.9"/>
<text transform="translate(819.5,977.5) scale(0.655,1)" text-anchor="middle" font-family="Liberation Sans, sans-serif" font-weight="bold" font-size="48.5" fill="#161512" stroke="#161512" stroke-width="0.9">15</text>
<line x1="198.3" y1="996.7" x2="198.2" y2="848.7" stroke="#2496d4" stroke-width="4"/>
<circle cx="198.2" cy="848.7" r="7.3" fill="#2496d4"/>
<circle cx="198.3" cy="996.7" r="42" fill="#fff" stroke="#2496d4" stroke-width="3.9"/>
<text transform="translate(199.3,1012.1) scale(0.655,1)" text-anchor="middle" font-family="Liberation Sans, sans-serif" font-weight="bold" font-size="48.5" fill="#161512" stroke="#161512" stroke-width="0.9">1</text>
<line x1="302.2" y1="996.7" x2="302.6" y2="848.7" stroke="#2496d4" stroke-width="4"/>
<circle cx="302.6" cy="848.7" r="7.3" fill="#2496d4"/>
<circle cx="302.2" cy="996.7" r="42" fill="#fff" stroke="#2496d4" stroke-width="3.9"/>
<text transform="translate(303.2,1012.1) scale(0.655,1)" text-anchor="middle" font-family="Liberation Sans, sans-serif" font-weight="bold" font-size="48.5" fill="#161512" stroke="#161512" stroke-width="0.9">2</text>
</g>
</svg>
</body></html>
